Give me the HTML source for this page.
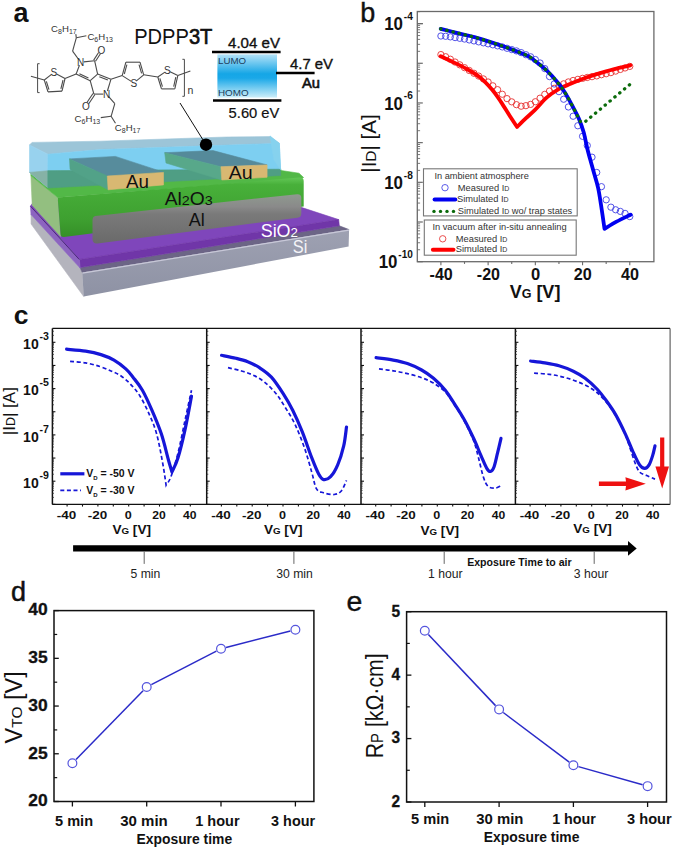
<!DOCTYPE html>
<html><head><meta charset="utf-8"><style>
html,body{margin:0;padding:0;background:#fff;}
svg{display:block;font-family:"Liberation Sans", sans-serif;}
</style></head><body>
<svg width="675" height="849" viewBox="0 0 675 849">
<rect width="675" height="849" fill="#fff"/>
<rect x="54" y="610.6" width="259.9" height="190.9" fill="none" stroke="#111" stroke-width="1.5"/>
<line x1="54" y1="801.5" x2="58.8" y2="801.5" stroke="#111" stroke-width="1.3" />
<line x1="54" y1="753.77" x2="58.8" y2="753.77" stroke="#111" stroke-width="1.3" />
<line x1="54" y1="706.05" x2="58.8" y2="706.05" stroke="#111" stroke-width="1.3" />
<line x1="54" y1="658.33" x2="58.8" y2="658.33" stroke="#111" stroke-width="1.3" />
<line x1="54" y1="610.6" x2="58.8" y2="610.6" stroke="#111" stroke-width="1.3" />
<line x1="54" y1="777.64" x2="57.2" y2="777.64" stroke="#111" stroke-width="1.2" />
<line x1="54" y1="729.91" x2="57.2" y2="729.91" stroke="#111" stroke-width="1.2" />
<line x1="54" y1="682.19" x2="57.2" y2="682.19" stroke="#111" stroke-width="1.2" />
<line x1="54" y1="634.46" x2="57.2" y2="634.46" stroke="#111" stroke-width="1.2" />
<text x="47.6" y="806.3" font-size="15.6" font-weight="bold" fill="#111" text-anchor="end" textLength="19.4" lengthAdjust="spacingAndGlyphs" stroke="#111" stroke-width="0.3">20</text>
<text x="47.6" y="758.57" font-size="15.6" font-weight="bold" fill="#111" text-anchor="end" textLength="19.4" lengthAdjust="spacingAndGlyphs" stroke="#111" stroke-width="0.3">25</text>
<text x="47.6" y="710.85" font-size="15.6" font-weight="bold" fill="#111" text-anchor="end" textLength="19.4" lengthAdjust="spacingAndGlyphs" stroke="#111" stroke-width="0.3">30</text>
<text x="47.6" y="663.12" font-size="15.6" font-weight="bold" fill="#111" text-anchor="end" textLength="19.4" lengthAdjust="spacingAndGlyphs" stroke="#111" stroke-width="0.3">35</text>
<text x="47.6" y="615.4" font-size="15.6" font-weight="bold" fill="#111" text-anchor="end" textLength="19.4" lengthAdjust="spacingAndGlyphs" stroke="#111" stroke-width="0.3">40</text>
<line x1="72.4" y1="801.5" x2="72.4" y2="806.5" stroke="#111" stroke-width="1.3" />
<text x="74.05" y="826.1" font-size="14.2" font-weight="bold" fill="#111" text-anchor="middle" textLength="38" lengthAdjust="spacingAndGlyphs" >5 min</text>
<line x1="146.7" y1="801.5" x2="146.7" y2="806.5" stroke="#111" stroke-width="1.3" />
<text x="144" y="826.1" font-size="14.2" font-weight="bold" fill="#111" text-anchor="middle" textLength="47.6" lengthAdjust="spacingAndGlyphs" >30 min</text>
<line x1="221" y1="801.5" x2="221" y2="806.5" stroke="#111" stroke-width="1.3" />
<text x="217.4" y="826.1" font-size="14.2" font-weight="bold" fill="#111" text-anchor="middle" textLength="44.3" lengthAdjust="spacingAndGlyphs" >1 hour</text>
<line x1="295.4" y1="801.5" x2="295.4" y2="806.5" stroke="#111" stroke-width="1.3" />
<text x="293.1" y="826.1" font-size="14.2" font-weight="bold" fill="#111" text-anchor="middle" textLength="44" lengthAdjust="spacingAndGlyphs" >3 hour</text>
<text x="184.3" y="844" font-size="14" font-weight="bold" fill="#111" text-anchor="middle" textLength="95.6" lengthAdjust="spacingAndGlyphs" >Exposure time</text>
<line x1="76.03" y1="759.59" x2="143.07" y2="690.69" stroke="#2b2bc8" stroke-width="1.5" />
<line x1="151.33" y1="684.58" x2="216.37" y2="651.16" stroke="#2b2bc8" stroke-width="1.5" />
<line x1="226.04" y1="647.49" x2="290.36" y2="630.98" stroke="#2b2bc8" stroke-width="1.5" />
<circle cx="72.4" cy="763.32" r="4.4" fill="#fff" stroke="#5555dd" stroke-width="1.2"/>
<circle cx="146.7" cy="686.96" r="4.4" fill="#fff" stroke="#5555dd" stroke-width="1.2"/>
<circle cx="221" cy="648.78" r="4.4" fill="#fff" stroke="#5555dd" stroke-width="1.2"/>
<circle cx="295.4" cy="629.69" r="4.4" fill="#fff" stroke="#5555dd" stroke-width="1.2"/>
<text transform="translate(22.4,707.3) rotate(-90)" text-anchor="middle" font-size="23.5" fill="#111">V<tspan font-size="15.5">TO</tspan> [V]</text>
<text x="11" y="600.7" font-size="27" font-weight="normal" fill="#111" text-anchor="start" stroke="#111" stroke-width="0.5">d</text>
<rect x="406.6" y="611.7" width="259.9" height="190.3" fill="none" stroke="#111" stroke-width="1.5"/>
<line x1="406.6" y1="802" x2="411.4" y2="802" stroke="#111" stroke-width="1.3" />
<line x1="406.6" y1="738.57" x2="411.4" y2="738.57" stroke="#111" stroke-width="1.3" />
<line x1="406.6" y1="675.13" x2="411.4" y2="675.13" stroke="#111" stroke-width="1.3" />
<line x1="406.6" y1="611.7" x2="411.4" y2="611.7" stroke="#111" stroke-width="1.3" />
<line x1="406.6" y1="770.28" x2="409.8" y2="770.28" stroke="#111" stroke-width="1.2" />
<line x1="406.6" y1="706.85" x2="409.8" y2="706.85" stroke="#111" stroke-width="1.2" />
<line x1="406.6" y1="643.42" x2="409.8" y2="643.42" stroke="#111" stroke-width="1.2" />
<text x="400.2" y="806.8" font-size="15.6" font-weight="bold" fill="#111" text-anchor="end" textLength="8.6" lengthAdjust="spacingAndGlyphs" stroke="#111" stroke-width="0.3">2</text>
<text x="400.2" y="743.37" font-size="15.6" font-weight="bold" fill="#111" text-anchor="end" textLength="8.6" lengthAdjust="spacingAndGlyphs" stroke="#111" stroke-width="0.3">3</text>
<text x="400.2" y="679.93" font-size="15.6" font-weight="bold" fill="#111" text-anchor="end" textLength="8.6" lengthAdjust="spacingAndGlyphs" stroke="#111" stroke-width="0.3">4</text>
<text x="400.2" y="616.5" font-size="15.6" font-weight="bold" fill="#111" text-anchor="end" textLength="8.6" lengthAdjust="spacingAndGlyphs" stroke="#111" stroke-width="0.3">5</text>
<line x1="424.8" y1="802" x2="424.8" y2="807" stroke="#111" stroke-width="1.3" />
<text x="430.1" y="824.3" font-size="14.2" font-weight="bold" fill="#111" text-anchor="middle" textLength="38.2" lengthAdjust="spacingAndGlyphs" >5 min</text>
<line x1="499.1" y1="802" x2="499.1" y2="807" stroke="#111" stroke-width="1.3" />
<text x="499.8" y="824.3" font-size="14.2" font-weight="bold" fill="#111" text-anchor="middle" textLength="47.2" lengthAdjust="spacingAndGlyphs" >30 min</text>
<line x1="573.4" y1="802" x2="573.4" y2="807" stroke="#111" stroke-width="1.3" />
<text x="574" y="824.3" font-size="14.2" font-weight="bold" fill="#111" text-anchor="middle" textLength="43.7" lengthAdjust="spacingAndGlyphs" >1 hour</text>
<line x1="647.6" y1="802" x2="647.6" y2="807" stroke="#111" stroke-width="1.3" />
<text x="649.4" y="824.3" font-size="14.2" font-weight="bold" fill="#111" text-anchor="middle" textLength="44.6" lengthAdjust="spacingAndGlyphs" >3 hour</text>
<text x="531.6" y="842.4" font-size="14" font-weight="bold" fill="#111" text-anchor="middle" textLength="95.6" lengthAdjust="spacingAndGlyphs" >Exposure time</text>
<line x1="428.37" y1="634.51" x2="495.53" y2="705.61" stroke="#2b2bc8" stroke-width="1.5" />
<line x1="503.26" y1="712.51" x2="569.24" y2="762.09" stroke="#2b2bc8" stroke-width="1.5" />
<line x1="578.4" y1="766.62" x2="642.6" y2="784.73" stroke="#2b2bc8" stroke-width="1.5" />
<circle cx="424.8" cy="630.73" r="4.4" fill="#fff" stroke="#5555dd" stroke-width="1.2"/>
<circle cx="499.1" cy="709.39" r="4.4" fill="#fff" stroke="#5555dd" stroke-width="1.2"/>
<circle cx="573.4" cy="765.21" r="4.4" fill="#fff" stroke="#5555dd" stroke-width="1.2"/>
<circle cx="647.6" cy="786.14" r="4.4" fill="#fff" stroke="#5555dd" stroke-width="1.2"/>
<text transform="translate(382.7,705.8) rotate(-90)" text-anchor="middle" font-size="23" fill="#111" textLength="105" lengthAdjust="spacingAndGlyphs">R<tspan font-size="16">P</tspan> [kΩ·cm]</text>
<text x="346.6" y="610.6" font-size="28.5" font-weight="normal" fill="#111" text-anchor="start" stroke="#111" stroke-width="0.4">e</text>
<line x1="52.4" y1="328.4" x2="670.1" y2="328.4" stroke="#111" stroke-width="1.4"/>
<line x1="52.4" y1="504.4" x2="670.1" y2="504.4" stroke="#111" stroke-width="1.4"/>
<line x1="52.4" y1="328.4" x2="52.4" y2="504.4" stroke="#111" stroke-width="1.5"/>
<line x1="52.4" y1="504.35" x2="55.4" y2="504.35" stroke="#111" stroke-width="1.1" />
<line x1="52.4" y1="497.38" x2="54" y2="497.38" stroke="#333" stroke-width="0.8" />
<line x1="52.4" y1="493.3" x2="54" y2="493.3" stroke="#333" stroke-width="0.8" />
<line x1="52.4" y1="490.41" x2="54" y2="490.41" stroke="#333" stroke-width="0.8" />
<line x1="52.4" y1="488.17" x2="54" y2="488.17" stroke="#333" stroke-width="0.8" />
<line x1="52.4" y1="486.34" x2="54" y2="486.34" stroke="#333" stroke-width="0.8" />
<line x1="52.4" y1="484.79" x2="54" y2="484.79" stroke="#333" stroke-width="0.8" />
<line x1="52.4" y1="483.44" x2="54" y2="483.44" stroke="#333" stroke-width="0.8" />
<line x1="52.4" y1="482.26" x2="54" y2="482.26" stroke="#333" stroke-width="0.8" />
<line x1="52.4" y1="481.2" x2="55.4" y2="481.2" stroke="#111" stroke-width="1.1" />
<line x1="52.4" y1="474.23" x2="54" y2="474.23" stroke="#333" stroke-width="0.8" />
<line x1="52.4" y1="470.15" x2="54" y2="470.15" stroke="#333" stroke-width="0.8" />
<line x1="52.4" y1="467.26" x2="54" y2="467.26" stroke="#333" stroke-width="0.8" />
<line x1="52.4" y1="465.02" x2="54" y2="465.02" stroke="#333" stroke-width="0.8" />
<line x1="52.4" y1="463.19" x2="54" y2="463.19" stroke="#333" stroke-width="0.8" />
<line x1="52.4" y1="461.64" x2="54" y2="461.64" stroke="#333" stroke-width="0.8" />
<line x1="52.4" y1="460.29" x2="54" y2="460.29" stroke="#333" stroke-width="0.8" />
<line x1="52.4" y1="459.11" x2="54" y2="459.11" stroke="#333" stroke-width="0.8" />
<line x1="52.4" y1="458.05" x2="55.4" y2="458.05" stroke="#111" stroke-width="1.1" />
<line x1="52.4" y1="451.08" x2="54" y2="451.08" stroke="#333" stroke-width="0.8" />
<line x1="52.4" y1="447" x2="54" y2="447" stroke="#333" stroke-width="0.8" />
<line x1="52.4" y1="444.11" x2="54" y2="444.11" stroke="#333" stroke-width="0.8" />
<line x1="52.4" y1="441.87" x2="54" y2="441.87" stroke="#333" stroke-width="0.8" />
<line x1="52.4" y1="440.04" x2="54" y2="440.04" stroke="#333" stroke-width="0.8" />
<line x1="52.4" y1="438.49" x2="54" y2="438.49" stroke="#333" stroke-width="0.8" />
<line x1="52.4" y1="437.14" x2="54" y2="437.14" stroke="#333" stroke-width="0.8" />
<line x1="52.4" y1="435.96" x2="54" y2="435.96" stroke="#333" stroke-width="0.8" />
<line x1="52.4" y1="434.9" x2="55.4" y2="434.9" stroke="#111" stroke-width="1.1" />
<line x1="52.4" y1="427.93" x2="54" y2="427.93" stroke="#333" stroke-width="0.8" />
<line x1="52.4" y1="423.85" x2="54" y2="423.85" stroke="#333" stroke-width="0.8" />
<line x1="52.4" y1="420.96" x2="54" y2="420.96" stroke="#333" stroke-width="0.8" />
<line x1="52.4" y1="418.72" x2="54" y2="418.72" stroke="#333" stroke-width="0.8" />
<line x1="52.4" y1="416.89" x2="54" y2="416.89" stroke="#333" stroke-width="0.8" />
<line x1="52.4" y1="415.34" x2="54" y2="415.34" stroke="#333" stroke-width="0.8" />
<line x1="52.4" y1="413.99" x2="54" y2="413.99" stroke="#333" stroke-width="0.8" />
<line x1="52.4" y1="412.81" x2="54" y2="412.81" stroke="#333" stroke-width="0.8" />
<line x1="52.4" y1="411.75" x2="55.4" y2="411.75" stroke="#111" stroke-width="1.1" />
<line x1="52.4" y1="404.78" x2="54" y2="404.78" stroke="#333" stroke-width="0.8" />
<line x1="52.4" y1="400.7" x2="54" y2="400.7" stroke="#333" stroke-width="0.8" />
<line x1="52.4" y1="397.81" x2="54" y2="397.81" stroke="#333" stroke-width="0.8" />
<line x1="52.4" y1="395.57" x2="54" y2="395.57" stroke="#333" stroke-width="0.8" />
<line x1="52.4" y1="393.74" x2="54" y2="393.74" stroke="#333" stroke-width="0.8" />
<line x1="52.4" y1="392.19" x2="54" y2="392.19" stroke="#333" stroke-width="0.8" />
<line x1="52.4" y1="390.84" x2="54" y2="390.84" stroke="#333" stroke-width="0.8" />
<line x1="52.4" y1="389.66" x2="54" y2="389.66" stroke="#333" stroke-width="0.8" />
<line x1="52.4" y1="388.6" x2="55.4" y2="388.6" stroke="#111" stroke-width="1.1" />
<line x1="52.4" y1="381.63" x2="54" y2="381.63" stroke="#333" stroke-width="0.8" />
<line x1="52.4" y1="377.55" x2="54" y2="377.55" stroke="#333" stroke-width="0.8" />
<line x1="52.4" y1="374.66" x2="54" y2="374.66" stroke="#333" stroke-width="0.8" />
<line x1="52.4" y1="372.42" x2="54" y2="372.42" stroke="#333" stroke-width="0.8" />
<line x1="52.4" y1="370.59" x2="54" y2="370.59" stroke="#333" stroke-width="0.8" />
<line x1="52.4" y1="369.04" x2="54" y2="369.04" stroke="#333" stroke-width="0.8" />
<line x1="52.4" y1="367.69" x2="54" y2="367.69" stroke="#333" stroke-width="0.8" />
<line x1="52.4" y1="366.51" x2="54" y2="366.51" stroke="#333" stroke-width="0.8" />
<line x1="52.4" y1="365.45" x2="55.4" y2="365.45" stroke="#111" stroke-width="1.1" />
<line x1="52.4" y1="358.48" x2="54" y2="358.48" stroke="#333" stroke-width="0.8" />
<line x1="52.4" y1="354.4" x2="54" y2="354.4" stroke="#333" stroke-width="0.8" />
<line x1="52.4" y1="351.51" x2="54" y2="351.51" stroke="#333" stroke-width="0.8" />
<line x1="52.4" y1="349.27" x2="54" y2="349.27" stroke="#333" stroke-width="0.8" />
<line x1="52.4" y1="347.44" x2="54" y2="347.44" stroke="#333" stroke-width="0.8" />
<line x1="52.4" y1="345.89" x2="54" y2="345.89" stroke="#333" stroke-width="0.8" />
<line x1="52.4" y1="344.54" x2="54" y2="344.54" stroke="#333" stroke-width="0.8" />
<line x1="52.4" y1="343.36" x2="54" y2="343.36" stroke="#333" stroke-width="0.8" />
<line x1="52.4" y1="342.3" x2="55.4" y2="342.3" stroke="#111" stroke-width="1.1" />
<line x1="52.4" y1="335.33" x2="54" y2="335.33" stroke="#333" stroke-width="0.8" />
<line x1="52.4" y1="331.25" x2="54" y2="331.25" stroke="#333" stroke-width="0.8" />
<line x1="67.1" y1="504.4" x2="67.1" y2="506.6" stroke="#111" stroke-width="1.1" />
<line x1="82.5" y1="504.4" x2="82.5" y2="506.6" stroke="#111" stroke-width="1.1" />
<line x1="97.9" y1="504.4" x2="97.9" y2="506.6" stroke="#111" stroke-width="1.1" />
<line x1="113.3" y1="504.4" x2="113.3" y2="506.6" stroke="#111" stroke-width="1.1" />
<line x1="128.7" y1="504.4" x2="128.7" y2="506.6" stroke="#111" stroke-width="1.1" />
<line x1="144.1" y1="504.4" x2="144.1" y2="506.6" stroke="#111" stroke-width="1.1" />
<line x1="159.5" y1="504.4" x2="159.5" y2="506.6" stroke="#111" stroke-width="1.1" />
<line x1="174.9" y1="504.4" x2="174.9" y2="506.6" stroke="#111" stroke-width="1.1" />
<line x1="190.3" y1="504.4" x2="190.3" y2="506.6" stroke="#111" stroke-width="1.1" />
<text x="66.6" y="519.2" font-size="11.8" font-weight="bold" fill="#111" text-anchor="middle" textLength="19.5" lengthAdjust="spacingAndGlyphs" >-40</text>
<text x="97.4" y="519.2" font-size="11.8" font-weight="bold" fill="#111" text-anchor="middle" textLength="19.5" lengthAdjust="spacingAndGlyphs" >-20</text>
<text x="128.2" y="519.2" font-size="11.8" font-weight="bold" fill="#111" text-anchor="middle" textLength="7" lengthAdjust="spacingAndGlyphs" >0</text>
<text x="159" y="519.2" font-size="11.8" font-weight="bold" fill="#111" text-anchor="middle" textLength="13.5" lengthAdjust="spacingAndGlyphs" >20</text>
<text x="189.8" y="519.2" font-size="11.8" font-weight="bold" fill="#111" text-anchor="middle" textLength="13.5" lengthAdjust="spacingAndGlyphs" >40</text>
<text x="131.7" y="534.3" text-anchor="middle" font-size="12.8" font-weight="bold" fill="#111" textLength="38.6" lengthAdjust="spacingAndGlyphs">V<tspan font-size="9.2">G</tspan> [V]</text>
<line x1="206.7" y1="328.4" x2="206.7" y2="504.4" stroke="#111" stroke-width="1.5"/>
<line x1="206.7" y1="504.35" x2="209.7" y2="504.35" stroke="#111" stroke-width="1.1" />
<line x1="206.7" y1="497.38" x2="208.3" y2="497.38" stroke="#333" stroke-width="0.8" />
<line x1="206.7" y1="493.3" x2="208.3" y2="493.3" stroke="#333" stroke-width="0.8" />
<line x1="206.7" y1="490.41" x2="208.3" y2="490.41" stroke="#333" stroke-width="0.8" />
<line x1="206.7" y1="488.17" x2="208.3" y2="488.17" stroke="#333" stroke-width="0.8" />
<line x1="206.7" y1="486.34" x2="208.3" y2="486.34" stroke="#333" stroke-width="0.8" />
<line x1="206.7" y1="484.79" x2="208.3" y2="484.79" stroke="#333" stroke-width="0.8" />
<line x1="206.7" y1="483.44" x2="208.3" y2="483.44" stroke="#333" stroke-width="0.8" />
<line x1="206.7" y1="482.26" x2="208.3" y2="482.26" stroke="#333" stroke-width="0.8" />
<line x1="206.7" y1="481.2" x2="209.7" y2="481.2" stroke="#111" stroke-width="1.1" />
<line x1="206.7" y1="474.23" x2="208.3" y2="474.23" stroke="#333" stroke-width="0.8" />
<line x1="206.7" y1="470.15" x2="208.3" y2="470.15" stroke="#333" stroke-width="0.8" />
<line x1="206.7" y1="467.26" x2="208.3" y2="467.26" stroke="#333" stroke-width="0.8" />
<line x1="206.7" y1="465.02" x2="208.3" y2="465.02" stroke="#333" stroke-width="0.8" />
<line x1="206.7" y1="463.19" x2="208.3" y2="463.19" stroke="#333" stroke-width="0.8" />
<line x1="206.7" y1="461.64" x2="208.3" y2="461.64" stroke="#333" stroke-width="0.8" />
<line x1="206.7" y1="460.29" x2="208.3" y2="460.29" stroke="#333" stroke-width="0.8" />
<line x1="206.7" y1="459.11" x2="208.3" y2="459.11" stroke="#333" stroke-width="0.8" />
<line x1="206.7" y1="458.05" x2="209.7" y2="458.05" stroke="#111" stroke-width="1.1" />
<line x1="206.7" y1="451.08" x2="208.3" y2="451.08" stroke="#333" stroke-width="0.8" />
<line x1="206.7" y1="447" x2="208.3" y2="447" stroke="#333" stroke-width="0.8" />
<line x1="206.7" y1="444.11" x2="208.3" y2="444.11" stroke="#333" stroke-width="0.8" />
<line x1="206.7" y1="441.87" x2="208.3" y2="441.87" stroke="#333" stroke-width="0.8" />
<line x1="206.7" y1="440.04" x2="208.3" y2="440.04" stroke="#333" stroke-width="0.8" />
<line x1="206.7" y1="438.49" x2="208.3" y2="438.49" stroke="#333" stroke-width="0.8" />
<line x1="206.7" y1="437.14" x2="208.3" y2="437.14" stroke="#333" stroke-width="0.8" />
<line x1="206.7" y1="435.96" x2="208.3" y2="435.96" stroke="#333" stroke-width="0.8" />
<line x1="206.7" y1="434.9" x2="209.7" y2="434.9" stroke="#111" stroke-width="1.1" />
<line x1="206.7" y1="427.93" x2="208.3" y2="427.93" stroke="#333" stroke-width="0.8" />
<line x1="206.7" y1="423.85" x2="208.3" y2="423.85" stroke="#333" stroke-width="0.8" />
<line x1="206.7" y1="420.96" x2="208.3" y2="420.96" stroke="#333" stroke-width="0.8" />
<line x1="206.7" y1="418.72" x2="208.3" y2="418.72" stroke="#333" stroke-width="0.8" />
<line x1="206.7" y1="416.89" x2="208.3" y2="416.89" stroke="#333" stroke-width="0.8" />
<line x1="206.7" y1="415.34" x2="208.3" y2="415.34" stroke="#333" stroke-width="0.8" />
<line x1="206.7" y1="413.99" x2="208.3" y2="413.99" stroke="#333" stroke-width="0.8" />
<line x1="206.7" y1="412.81" x2="208.3" y2="412.81" stroke="#333" stroke-width="0.8" />
<line x1="206.7" y1="411.75" x2="209.7" y2="411.75" stroke="#111" stroke-width="1.1" />
<line x1="206.7" y1="404.78" x2="208.3" y2="404.78" stroke="#333" stroke-width="0.8" />
<line x1="206.7" y1="400.7" x2="208.3" y2="400.7" stroke="#333" stroke-width="0.8" />
<line x1="206.7" y1="397.81" x2="208.3" y2="397.81" stroke="#333" stroke-width="0.8" />
<line x1="206.7" y1="395.57" x2="208.3" y2="395.57" stroke="#333" stroke-width="0.8" />
<line x1="206.7" y1="393.74" x2="208.3" y2="393.74" stroke="#333" stroke-width="0.8" />
<line x1="206.7" y1="392.19" x2="208.3" y2="392.19" stroke="#333" stroke-width="0.8" />
<line x1="206.7" y1="390.84" x2="208.3" y2="390.84" stroke="#333" stroke-width="0.8" />
<line x1="206.7" y1="389.66" x2="208.3" y2="389.66" stroke="#333" stroke-width="0.8" />
<line x1="206.7" y1="388.6" x2="209.7" y2="388.6" stroke="#111" stroke-width="1.1" />
<line x1="206.7" y1="381.63" x2="208.3" y2="381.63" stroke="#333" stroke-width="0.8" />
<line x1="206.7" y1="377.55" x2="208.3" y2="377.55" stroke="#333" stroke-width="0.8" />
<line x1="206.7" y1="374.66" x2="208.3" y2="374.66" stroke="#333" stroke-width="0.8" />
<line x1="206.7" y1="372.42" x2="208.3" y2="372.42" stroke="#333" stroke-width="0.8" />
<line x1="206.7" y1="370.59" x2="208.3" y2="370.59" stroke="#333" stroke-width="0.8" />
<line x1="206.7" y1="369.04" x2="208.3" y2="369.04" stroke="#333" stroke-width="0.8" />
<line x1="206.7" y1="367.69" x2="208.3" y2="367.69" stroke="#333" stroke-width="0.8" />
<line x1="206.7" y1="366.51" x2="208.3" y2="366.51" stroke="#333" stroke-width="0.8" />
<line x1="206.7" y1="365.45" x2="209.7" y2="365.45" stroke="#111" stroke-width="1.1" />
<line x1="206.7" y1="358.48" x2="208.3" y2="358.48" stroke="#333" stroke-width="0.8" />
<line x1="206.7" y1="354.4" x2="208.3" y2="354.4" stroke="#333" stroke-width="0.8" />
<line x1="206.7" y1="351.51" x2="208.3" y2="351.51" stroke="#333" stroke-width="0.8" />
<line x1="206.7" y1="349.27" x2="208.3" y2="349.27" stroke="#333" stroke-width="0.8" />
<line x1="206.7" y1="347.44" x2="208.3" y2="347.44" stroke="#333" stroke-width="0.8" />
<line x1="206.7" y1="345.89" x2="208.3" y2="345.89" stroke="#333" stroke-width="0.8" />
<line x1="206.7" y1="344.54" x2="208.3" y2="344.54" stroke="#333" stroke-width="0.8" />
<line x1="206.7" y1="343.36" x2="208.3" y2="343.36" stroke="#333" stroke-width="0.8" />
<line x1="206.7" y1="342.3" x2="209.7" y2="342.3" stroke="#111" stroke-width="1.1" />
<line x1="206.7" y1="335.33" x2="208.3" y2="335.33" stroke="#333" stroke-width="0.8" />
<line x1="206.7" y1="331.25" x2="208.3" y2="331.25" stroke="#333" stroke-width="0.8" />
<line x1="221.4" y1="504.4" x2="221.4" y2="506.6" stroke="#111" stroke-width="1.1" />
<line x1="236.8" y1="504.4" x2="236.8" y2="506.6" stroke="#111" stroke-width="1.1" />
<line x1="252.2" y1="504.4" x2="252.2" y2="506.6" stroke="#111" stroke-width="1.1" />
<line x1="267.6" y1="504.4" x2="267.6" y2="506.6" stroke="#111" stroke-width="1.1" />
<line x1="283" y1="504.4" x2="283" y2="506.6" stroke="#111" stroke-width="1.1" />
<line x1="298.4" y1="504.4" x2="298.4" y2="506.6" stroke="#111" stroke-width="1.1" />
<line x1="313.8" y1="504.4" x2="313.8" y2="506.6" stroke="#111" stroke-width="1.1" />
<line x1="329.2" y1="504.4" x2="329.2" y2="506.6" stroke="#111" stroke-width="1.1" />
<line x1="344.6" y1="504.4" x2="344.6" y2="506.6" stroke="#111" stroke-width="1.1" />
<text x="220.9" y="519.2" font-size="11.8" font-weight="bold" fill="#111" text-anchor="middle" textLength="19.5" lengthAdjust="spacingAndGlyphs" >-40</text>
<text x="251.7" y="519.2" font-size="11.8" font-weight="bold" fill="#111" text-anchor="middle" textLength="19.5" lengthAdjust="spacingAndGlyphs" >-20</text>
<text x="282.5" y="519.2" font-size="11.8" font-weight="bold" fill="#111" text-anchor="middle" textLength="7" lengthAdjust="spacingAndGlyphs" >0</text>
<text x="313.3" y="519.2" font-size="11.8" font-weight="bold" fill="#111" text-anchor="middle" textLength="13.5" lengthAdjust="spacingAndGlyphs" >20</text>
<text x="344.1" y="519.2" font-size="11.8" font-weight="bold" fill="#111" text-anchor="middle" textLength="13.5" lengthAdjust="spacingAndGlyphs" >40</text>
<text x="283.2" y="533.9" text-anchor="middle" font-size="12.8" font-weight="bold" fill="#111" textLength="38.6" lengthAdjust="spacingAndGlyphs">V<tspan font-size="9.2">G</tspan> [V]</text>
<line x1="361.0" y1="328.4" x2="361.0" y2="504.4" stroke="#111" stroke-width="1.5"/>
<line x1="361" y1="504.35" x2="364" y2="504.35" stroke="#111" stroke-width="1.1" />
<line x1="361" y1="497.38" x2="362.6" y2="497.38" stroke="#333" stroke-width="0.8" />
<line x1="361" y1="493.3" x2="362.6" y2="493.3" stroke="#333" stroke-width="0.8" />
<line x1="361" y1="490.41" x2="362.6" y2="490.41" stroke="#333" stroke-width="0.8" />
<line x1="361" y1="488.17" x2="362.6" y2="488.17" stroke="#333" stroke-width="0.8" />
<line x1="361" y1="486.34" x2="362.6" y2="486.34" stroke="#333" stroke-width="0.8" />
<line x1="361" y1="484.79" x2="362.6" y2="484.79" stroke="#333" stroke-width="0.8" />
<line x1="361" y1="483.44" x2="362.6" y2="483.44" stroke="#333" stroke-width="0.8" />
<line x1="361" y1="482.26" x2="362.6" y2="482.26" stroke="#333" stroke-width="0.8" />
<line x1="361" y1="481.2" x2="364" y2="481.2" stroke="#111" stroke-width="1.1" />
<line x1="361" y1="474.23" x2="362.6" y2="474.23" stroke="#333" stroke-width="0.8" />
<line x1="361" y1="470.15" x2="362.6" y2="470.15" stroke="#333" stroke-width="0.8" />
<line x1="361" y1="467.26" x2="362.6" y2="467.26" stroke="#333" stroke-width="0.8" />
<line x1="361" y1="465.02" x2="362.6" y2="465.02" stroke="#333" stroke-width="0.8" />
<line x1="361" y1="463.19" x2="362.6" y2="463.19" stroke="#333" stroke-width="0.8" />
<line x1="361" y1="461.64" x2="362.6" y2="461.64" stroke="#333" stroke-width="0.8" />
<line x1="361" y1="460.29" x2="362.6" y2="460.29" stroke="#333" stroke-width="0.8" />
<line x1="361" y1="459.11" x2="362.6" y2="459.11" stroke="#333" stroke-width="0.8" />
<line x1="361" y1="458.05" x2="364" y2="458.05" stroke="#111" stroke-width="1.1" />
<line x1="361" y1="451.08" x2="362.6" y2="451.08" stroke="#333" stroke-width="0.8" />
<line x1="361" y1="447" x2="362.6" y2="447" stroke="#333" stroke-width="0.8" />
<line x1="361" y1="444.11" x2="362.6" y2="444.11" stroke="#333" stroke-width="0.8" />
<line x1="361" y1="441.87" x2="362.6" y2="441.87" stroke="#333" stroke-width="0.8" />
<line x1="361" y1="440.04" x2="362.6" y2="440.04" stroke="#333" stroke-width="0.8" />
<line x1="361" y1="438.49" x2="362.6" y2="438.49" stroke="#333" stroke-width="0.8" />
<line x1="361" y1="437.14" x2="362.6" y2="437.14" stroke="#333" stroke-width="0.8" />
<line x1="361" y1="435.96" x2="362.6" y2="435.96" stroke="#333" stroke-width="0.8" />
<line x1="361" y1="434.9" x2="364" y2="434.9" stroke="#111" stroke-width="1.1" />
<line x1="361" y1="427.93" x2="362.6" y2="427.93" stroke="#333" stroke-width="0.8" />
<line x1="361" y1="423.85" x2="362.6" y2="423.85" stroke="#333" stroke-width="0.8" />
<line x1="361" y1="420.96" x2="362.6" y2="420.96" stroke="#333" stroke-width="0.8" />
<line x1="361" y1="418.72" x2="362.6" y2="418.72" stroke="#333" stroke-width="0.8" />
<line x1="361" y1="416.89" x2="362.6" y2="416.89" stroke="#333" stroke-width="0.8" />
<line x1="361" y1="415.34" x2="362.6" y2="415.34" stroke="#333" stroke-width="0.8" />
<line x1="361" y1="413.99" x2="362.6" y2="413.99" stroke="#333" stroke-width="0.8" />
<line x1="361" y1="412.81" x2="362.6" y2="412.81" stroke="#333" stroke-width="0.8" />
<line x1="361" y1="411.75" x2="364" y2="411.75" stroke="#111" stroke-width="1.1" />
<line x1="361" y1="404.78" x2="362.6" y2="404.78" stroke="#333" stroke-width="0.8" />
<line x1="361" y1="400.7" x2="362.6" y2="400.7" stroke="#333" stroke-width="0.8" />
<line x1="361" y1="397.81" x2="362.6" y2="397.81" stroke="#333" stroke-width="0.8" />
<line x1="361" y1="395.57" x2="362.6" y2="395.57" stroke="#333" stroke-width="0.8" />
<line x1="361" y1="393.74" x2="362.6" y2="393.74" stroke="#333" stroke-width="0.8" />
<line x1="361" y1="392.19" x2="362.6" y2="392.19" stroke="#333" stroke-width="0.8" />
<line x1="361" y1="390.84" x2="362.6" y2="390.84" stroke="#333" stroke-width="0.8" />
<line x1="361" y1="389.66" x2="362.6" y2="389.66" stroke="#333" stroke-width="0.8" />
<line x1="361" y1="388.6" x2="364" y2="388.6" stroke="#111" stroke-width="1.1" />
<line x1="361" y1="381.63" x2="362.6" y2="381.63" stroke="#333" stroke-width="0.8" />
<line x1="361" y1="377.55" x2="362.6" y2="377.55" stroke="#333" stroke-width="0.8" />
<line x1="361" y1="374.66" x2="362.6" y2="374.66" stroke="#333" stroke-width="0.8" />
<line x1="361" y1="372.42" x2="362.6" y2="372.42" stroke="#333" stroke-width="0.8" />
<line x1="361" y1="370.59" x2="362.6" y2="370.59" stroke="#333" stroke-width="0.8" />
<line x1="361" y1="369.04" x2="362.6" y2="369.04" stroke="#333" stroke-width="0.8" />
<line x1="361" y1="367.69" x2="362.6" y2="367.69" stroke="#333" stroke-width="0.8" />
<line x1="361" y1="366.51" x2="362.6" y2="366.51" stroke="#333" stroke-width="0.8" />
<line x1="361" y1="365.45" x2="364" y2="365.45" stroke="#111" stroke-width="1.1" />
<line x1="361" y1="358.48" x2="362.6" y2="358.48" stroke="#333" stroke-width="0.8" />
<line x1="361" y1="354.4" x2="362.6" y2="354.4" stroke="#333" stroke-width="0.8" />
<line x1="361" y1="351.51" x2="362.6" y2="351.51" stroke="#333" stroke-width="0.8" />
<line x1="361" y1="349.27" x2="362.6" y2="349.27" stroke="#333" stroke-width="0.8" />
<line x1="361" y1="347.44" x2="362.6" y2="347.44" stroke="#333" stroke-width="0.8" />
<line x1="361" y1="345.89" x2="362.6" y2="345.89" stroke="#333" stroke-width="0.8" />
<line x1="361" y1="344.54" x2="362.6" y2="344.54" stroke="#333" stroke-width="0.8" />
<line x1="361" y1="343.36" x2="362.6" y2="343.36" stroke="#333" stroke-width="0.8" />
<line x1="361" y1="342.3" x2="364" y2="342.3" stroke="#111" stroke-width="1.1" />
<line x1="361" y1="335.33" x2="362.6" y2="335.33" stroke="#333" stroke-width="0.8" />
<line x1="361" y1="331.25" x2="362.6" y2="331.25" stroke="#333" stroke-width="0.8" />
<line x1="375.7" y1="504.4" x2="375.7" y2="506.6" stroke="#111" stroke-width="1.1" />
<line x1="391.1" y1="504.4" x2="391.1" y2="506.6" stroke="#111" stroke-width="1.1" />
<line x1="406.5" y1="504.4" x2="406.5" y2="506.6" stroke="#111" stroke-width="1.1" />
<line x1="421.9" y1="504.4" x2="421.9" y2="506.6" stroke="#111" stroke-width="1.1" />
<line x1="437.3" y1="504.4" x2="437.3" y2="506.6" stroke="#111" stroke-width="1.1" />
<line x1="452.7" y1="504.4" x2="452.7" y2="506.6" stroke="#111" stroke-width="1.1" />
<line x1="468.1" y1="504.4" x2="468.1" y2="506.6" stroke="#111" stroke-width="1.1" />
<line x1="483.5" y1="504.4" x2="483.5" y2="506.6" stroke="#111" stroke-width="1.1" />
<line x1="498.9" y1="504.4" x2="498.9" y2="506.6" stroke="#111" stroke-width="1.1" />
<text x="375.2" y="519.2" font-size="11.8" font-weight="bold" fill="#111" text-anchor="middle" textLength="19.5" lengthAdjust="spacingAndGlyphs" >-40</text>
<text x="406" y="519.2" font-size="11.8" font-weight="bold" fill="#111" text-anchor="middle" textLength="19.5" lengthAdjust="spacingAndGlyphs" >-20</text>
<text x="436.8" y="519.2" font-size="11.8" font-weight="bold" fill="#111" text-anchor="middle" textLength="7" lengthAdjust="spacingAndGlyphs" >0</text>
<text x="467.6" y="519.2" font-size="11.8" font-weight="bold" fill="#111" text-anchor="middle" textLength="13.5" lengthAdjust="spacingAndGlyphs" >20</text>
<text x="498.4" y="519.2" font-size="11.8" font-weight="bold" fill="#111" text-anchor="middle" textLength="13.5" lengthAdjust="spacingAndGlyphs" >40</text>
<text x="439.7" y="535.1" text-anchor="middle" font-size="12.8" font-weight="bold" fill="#111" textLength="38.6" lengthAdjust="spacingAndGlyphs">V<tspan font-size="9.2">G</tspan> [V]</text>
<line x1="515.4" y1="328.4" x2="515.4" y2="504.4" stroke="#111" stroke-width="1.5"/>
<line x1="515.4" y1="504.35" x2="518.4" y2="504.35" stroke="#111" stroke-width="1.1" />
<line x1="515.4" y1="497.38" x2="517" y2="497.38" stroke="#333" stroke-width="0.8" />
<line x1="515.4" y1="493.3" x2="517" y2="493.3" stroke="#333" stroke-width="0.8" />
<line x1="515.4" y1="490.41" x2="517" y2="490.41" stroke="#333" stroke-width="0.8" />
<line x1="515.4" y1="488.17" x2="517" y2="488.17" stroke="#333" stroke-width="0.8" />
<line x1="515.4" y1="486.34" x2="517" y2="486.34" stroke="#333" stroke-width="0.8" />
<line x1="515.4" y1="484.79" x2="517" y2="484.79" stroke="#333" stroke-width="0.8" />
<line x1="515.4" y1="483.44" x2="517" y2="483.44" stroke="#333" stroke-width="0.8" />
<line x1="515.4" y1="482.26" x2="517" y2="482.26" stroke="#333" stroke-width="0.8" />
<line x1="515.4" y1="481.2" x2="518.4" y2="481.2" stroke="#111" stroke-width="1.1" />
<line x1="515.4" y1="474.23" x2="517" y2="474.23" stroke="#333" stroke-width="0.8" />
<line x1="515.4" y1="470.15" x2="517" y2="470.15" stroke="#333" stroke-width="0.8" />
<line x1="515.4" y1="467.26" x2="517" y2="467.26" stroke="#333" stroke-width="0.8" />
<line x1="515.4" y1="465.02" x2="517" y2="465.02" stroke="#333" stroke-width="0.8" />
<line x1="515.4" y1="463.19" x2="517" y2="463.19" stroke="#333" stroke-width="0.8" />
<line x1="515.4" y1="461.64" x2="517" y2="461.64" stroke="#333" stroke-width="0.8" />
<line x1="515.4" y1="460.29" x2="517" y2="460.29" stroke="#333" stroke-width="0.8" />
<line x1="515.4" y1="459.11" x2="517" y2="459.11" stroke="#333" stroke-width="0.8" />
<line x1="515.4" y1="458.05" x2="518.4" y2="458.05" stroke="#111" stroke-width="1.1" />
<line x1="515.4" y1="451.08" x2="517" y2="451.08" stroke="#333" stroke-width="0.8" />
<line x1="515.4" y1="447" x2="517" y2="447" stroke="#333" stroke-width="0.8" />
<line x1="515.4" y1="444.11" x2="517" y2="444.11" stroke="#333" stroke-width="0.8" />
<line x1="515.4" y1="441.87" x2="517" y2="441.87" stroke="#333" stroke-width="0.8" />
<line x1="515.4" y1="440.04" x2="517" y2="440.04" stroke="#333" stroke-width="0.8" />
<line x1="515.4" y1="438.49" x2="517" y2="438.49" stroke="#333" stroke-width="0.8" />
<line x1="515.4" y1="437.14" x2="517" y2="437.14" stroke="#333" stroke-width="0.8" />
<line x1="515.4" y1="435.96" x2="517" y2="435.96" stroke="#333" stroke-width="0.8" />
<line x1="515.4" y1="434.9" x2="518.4" y2="434.9" stroke="#111" stroke-width="1.1" />
<line x1="515.4" y1="427.93" x2="517" y2="427.93" stroke="#333" stroke-width="0.8" />
<line x1="515.4" y1="423.85" x2="517" y2="423.85" stroke="#333" stroke-width="0.8" />
<line x1="515.4" y1="420.96" x2="517" y2="420.96" stroke="#333" stroke-width="0.8" />
<line x1="515.4" y1="418.72" x2="517" y2="418.72" stroke="#333" stroke-width="0.8" />
<line x1="515.4" y1="416.89" x2="517" y2="416.89" stroke="#333" stroke-width="0.8" />
<line x1="515.4" y1="415.34" x2="517" y2="415.34" stroke="#333" stroke-width="0.8" />
<line x1="515.4" y1="413.99" x2="517" y2="413.99" stroke="#333" stroke-width="0.8" />
<line x1="515.4" y1="412.81" x2="517" y2="412.81" stroke="#333" stroke-width="0.8" />
<line x1="515.4" y1="411.75" x2="518.4" y2="411.75" stroke="#111" stroke-width="1.1" />
<line x1="515.4" y1="404.78" x2="517" y2="404.78" stroke="#333" stroke-width="0.8" />
<line x1="515.4" y1="400.7" x2="517" y2="400.7" stroke="#333" stroke-width="0.8" />
<line x1="515.4" y1="397.81" x2="517" y2="397.81" stroke="#333" stroke-width="0.8" />
<line x1="515.4" y1="395.57" x2="517" y2="395.57" stroke="#333" stroke-width="0.8" />
<line x1="515.4" y1="393.74" x2="517" y2="393.74" stroke="#333" stroke-width="0.8" />
<line x1="515.4" y1="392.19" x2="517" y2="392.19" stroke="#333" stroke-width="0.8" />
<line x1="515.4" y1="390.84" x2="517" y2="390.84" stroke="#333" stroke-width="0.8" />
<line x1="515.4" y1="389.66" x2="517" y2="389.66" stroke="#333" stroke-width="0.8" />
<line x1="515.4" y1="388.6" x2="518.4" y2="388.6" stroke="#111" stroke-width="1.1" />
<line x1="515.4" y1="381.63" x2="517" y2="381.63" stroke="#333" stroke-width="0.8" />
<line x1="515.4" y1="377.55" x2="517" y2="377.55" stroke="#333" stroke-width="0.8" />
<line x1="515.4" y1="374.66" x2="517" y2="374.66" stroke="#333" stroke-width="0.8" />
<line x1="515.4" y1="372.42" x2="517" y2="372.42" stroke="#333" stroke-width="0.8" />
<line x1="515.4" y1="370.59" x2="517" y2="370.59" stroke="#333" stroke-width="0.8" />
<line x1="515.4" y1="369.04" x2="517" y2="369.04" stroke="#333" stroke-width="0.8" />
<line x1="515.4" y1="367.69" x2="517" y2="367.69" stroke="#333" stroke-width="0.8" />
<line x1="515.4" y1="366.51" x2="517" y2="366.51" stroke="#333" stroke-width="0.8" />
<line x1="515.4" y1="365.45" x2="518.4" y2="365.45" stroke="#111" stroke-width="1.1" />
<line x1="515.4" y1="358.48" x2="517" y2="358.48" stroke="#333" stroke-width="0.8" />
<line x1="515.4" y1="354.4" x2="517" y2="354.4" stroke="#333" stroke-width="0.8" />
<line x1="515.4" y1="351.51" x2="517" y2="351.51" stroke="#333" stroke-width="0.8" />
<line x1="515.4" y1="349.27" x2="517" y2="349.27" stroke="#333" stroke-width="0.8" />
<line x1="515.4" y1="347.44" x2="517" y2="347.44" stroke="#333" stroke-width="0.8" />
<line x1="515.4" y1="345.89" x2="517" y2="345.89" stroke="#333" stroke-width="0.8" />
<line x1="515.4" y1="344.54" x2="517" y2="344.54" stroke="#333" stroke-width="0.8" />
<line x1="515.4" y1="343.36" x2="517" y2="343.36" stroke="#333" stroke-width="0.8" />
<line x1="515.4" y1="342.3" x2="518.4" y2="342.3" stroke="#111" stroke-width="1.1" />
<line x1="515.4" y1="335.33" x2="517" y2="335.33" stroke="#333" stroke-width="0.8" />
<line x1="515.4" y1="331.25" x2="517" y2="331.25" stroke="#333" stroke-width="0.8" />
<line x1="530.1" y1="504.4" x2="530.1" y2="506.6" stroke="#111" stroke-width="1.1" />
<line x1="545.5" y1="504.4" x2="545.5" y2="506.6" stroke="#111" stroke-width="1.1" />
<line x1="560.9" y1="504.4" x2="560.9" y2="506.6" stroke="#111" stroke-width="1.1" />
<line x1="576.3" y1="504.4" x2="576.3" y2="506.6" stroke="#111" stroke-width="1.1" />
<line x1="591.7" y1="504.4" x2="591.7" y2="506.6" stroke="#111" stroke-width="1.1" />
<line x1="607.1" y1="504.4" x2="607.1" y2="506.6" stroke="#111" stroke-width="1.1" />
<line x1="622.5" y1="504.4" x2="622.5" y2="506.6" stroke="#111" stroke-width="1.1" />
<line x1="637.9" y1="504.4" x2="637.9" y2="506.6" stroke="#111" stroke-width="1.1" />
<line x1="653.3" y1="504.4" x2="653.3" y2="506.6" stroke="#111" stroke-width="1.1" />
<text x="529.6" y="519.2" font-size="11.8" font-weight="bold" fill="#111" text-anchor="middle" textLength="19.5" lengthAdjust="spacingAndGlyphs" >-40</text>
<text x="560.4" y="519.2" font-size="11.8" font-weight="bold" fill="#111" text-anchor="middle" textLength="19.5" lengthAdjust="spacingAndGlyphs" >-20</text>
<text x="591.2" y="519.2" font-size="11.8" font-weight="bold" fill="#111" text-anchor="middle" textLength="7" lengthAdjust="spacingAndGlyphs" >0</text>
<text x="622" y="519.2" font-size="11.8" font-weight="bold" fill="#111" text-anchor="middle" textLength="13.5" lengthAdjust="spacingAndGlyphs" >20</text>
<text x="652.8" y="519.2" font-size="11.8" font-weight="bold" fill="#111" text-anchor="middle" textLength="13.5" lengthAdjust="spacingAndGlyphs" >40</text>
<text x="592.5" y="533.4" text-anchor="middle" font-size="12.8" font-weight="bold" fill="#111" textLength="38.6" lengthAdjust="spacingAndGlyphs">V<tspan font-size="9.2">G</tspan> [V]</text>
<line x1="670.1" y1="328.4" x2="670.1" y2="504.4" stroke="#555" stroke-width="1.1"/>
<text x="23.1" y="348.9" font-size="15.1" font-weight="bold" fill="#111" text-anchor="start" textLength="15.6" lengthAdjust="spacingAndGlyphs" >10</text>
<text x="39.5" y="340" font-size="10.3" font-weight="bold" fill="#111" text-anchor="start" textLength="9.4" lengthAdjust="spacingAndGlyphs" >-3</text>
<text x="23.1" y="395.2" font-size="15.1" font-weight="bold" fill="#111" text-anchor="start" textLength="15.6" lengthAdjust="spacingAndGlyphs" >10</text>
<text x="39.5" y="386.3" font-size="10.3" font-weight="bold" fill="#111" text-anchor="start" textLength="9.4" lengthAdjust="spacingAndGlyphs" >-5</text>
<text x="23.1" y="441.5" font-size="15.1" font-weight="bold" fill="#111" text-anchor="start" textLength="15.6" lengthAdjust="spacingAndGlyphs" >10</text>
<text x="39.5" y="432.6" font-size="10.3" font-weight="bold" fill="#111" text-anchor="start" textLength="9.4" lengthAdjust="spacingAndGlyphs" >-7</text>
<text x="23.1" y="487.8" font-size="15.1" font-weight="bold" fill="#111" text-anchor="start" textLength="15.6" lengthAdjust="spacingAndGlyphs" >10</text>
<text x="39.5" y="478.9" font-size="10.3" font-weight="bold" fill="#111" text-anchor="start" textLength="9.4" lengthAdjust="spacingAndGlyphs" >-9</text>
<text transform="translate(14.8,411.2) rotate(-90)" text-anchor="middle" font-size="17" fill="#111">|I<tspan font-size="12.5">D</tspan>| [A]</text>
<text x="13.8" y="324.2" font-size="26.5" font-weight="bold" fill="#111" text-anchor="start" >c</text>
<path d="M70.1,361.3 C72.68,361.57 80.65,362.03 85.6,362.9 C90.55,363.77 95.47,365.12 99.8,366.5 C104.13,367.88 108.05,369.62 111.6,371.2 C115.15,372.78 117.93,373.82 121.1,376 C124.27,378.18 127.43,380.93 130.6,384.3 C133.77,387.67 136.93,391.07 140.1,396.2 C143.27,401.33 146.83,408.78 149.6,415.1 C152.37,421.42 154.53,426.18 156.7,434.1 C158.87,442.02 161.03,454.1 162.6,462.6 C164.17,471.1 165.52,481.35 166.1,485.1 C166.9,483.72 168.92,482.13 170.9,476.8 C172.88,471.47 175.63,462.58 178,453.1 C180.37,443.62 182.85,430.38 185.1,419.9 C187.35,409.42 190.43,395.15 191.5,390.2" fill="none" stroke="#1616d8" stroke-width="1.7" stroke-dasharray="4 2.6"/>
<path d="M228,367.7 C230.08,368.2 236.43,369.52 240.5,370.7 C244.57,371.88 248.43,372.93 252.4,374.8 C256.37,376.67 260.35,378.75 264.3,381.9 C268.25,385.05 272.55,389.35 276.1,393.7 C279.65,398.05 282.43,402.87 285.6,408 C288.77,413.13 291.93,417.78 295.1,424.5 C298.27,431.22 301.83,440.38 304.6,448.3 C307.37,456.22 309.73,465.28 311.7,472 C313.67,478.72 314.43,485.13 316.4,488.6 C318.37,492.07 320.53,491.82 323.5,492.8 C326.47,493.78 331.23,494.8 334.2,494.5 C337.17,494.2 339.25,493.35 341.3,491 C343.35,488.65 345.63,482.17 346.5,480.4" fill="none" stroke="#1616d8" stroke-width="1.7" stroke-dasharray="4 2.6"/>
<path d="M379,368.9 C381.37,369.22 388.47,370.02 393.2,370.8 C397.93,371.58 402.67,372.45 407.4,373.6 C412.13,374.75 417.25,376.12 421.6,377.7 C425.95,379.28 429.55,380.72 433.5,383.1 C437.45,385.48 441.75,388.27 445.3,392 C448.85,395.73 451.63,400.67 454.8,405.5 C457.97,410.33 461.13,415.05 464.3,421 C467.47,426.95 471.43,435.07 473.8,441.2 C476.17,447.33 476.92,451.87 478.5,457.8 C480.08,463.73 481.72,472.05 483.3,476.8 C484.88,481.55 486.03,484.4 488,486.3 C489.97,488.2 492.93,488.28 495.1,488.2 C497.27,488.12 500.02,486.2 501,485.8" fill="none" stroke="#1616d8" stroke-width="1.7" stroke-dasharray="4 2.6"/>
<path d="M534.1,373.1 C536.68,373.3 544.65,373.62 549.6,374.3 C554.55,374.98 559.07,375.93 563.8,377.2 C568.53,378.47 573.27,379.93 578,381.9 C582.73,383.87 587.85,386.07 592.2,389 C596.55,391.93 600.15,395 604.1,399.5 C608.05,404 612.35,410.08 615.9,416 C619.45,421.92 623.03,429.62 625.4,435 C627.77,440.38 628.52,443.72 630.1,448.3 C631.68,452.88 633.32,458.55 634.9,462.5 C636.48,466.45 637.63,469.83 639.6,472 C641.57,474.17 644.13,474.32 646.7,475.5 C649.27,476.68 653.62,478.5 655,479.1" fill="none" stroke="#1616d8" stroke-width="1.7" stroke-dasharray="4 2.6"/>
<path d="M66.6,349.2 C69.77,349.52 79.87,350.2 85.6,351.1 C91.33,352 96.27,353.1 101,354.6 C105.73,356.1 109.87,357.72 114,360.1 C118.13,362.48 122.63,366.05 125.8,368.9 C128.97,371.75 130.23,373.65 133,377.2 C135.77,380.75 139.23,384.67 142.4,390.2 C145.57,395.73 148.83,403.08 152,410.4 C155.17,417.72 158.65,425.8 161.4,434.1 C164.15,442.4 166.73,453.88 168.5,460.2 C170.27,466.52 171.42,470.03 172,472 C173,469.63 175.82,464.92 178,457.8 C180.18,450.68 182.85,439.57 185.1,429.3 C187.35,419.03 190.43,401.72 191.5,396.2" fill="none" stroke="#1616d8" stroke-width="3.2" stroke-linecap="round" stroke-linejoin="round"/>
<path d="M221.6,355.3 C223.97,355.78 231.45,357.13 235.8,358.2 C240.15,359.27 243.75,360.12 247.7,361.7 C251.65,363.28 255.55,365.12 259.5,367.7 C263.45,370.28 267.45,372.87 271.4,377.2 C275.35,381.53 279.65,388.18 283.2,393.7 C286.75,399.22 289.53,403.97 292.7,410.3 C295.87,416.63 299.03,423.8 302.2,431.7 C305.37,439.6 308.93,450.6 311.7,457.7 C314.47,464.8 316.83,470.65 318.8,474.3 C320.77,477.95 321.53,479.2 323.5,479.6 C325.47,480 328.23,479.15 330.6,476.7 C332.97,474.25 335.52,470.03 337.7,464.9 C339.88,459.77 342.23,452.22 343.7,445.9 C345.17,439.58 346.03,430.15 346.5,427" fill="none" stroke="#1616d8" stroke-width="3.2" stroke-linecap="round" stroke-linejoin="round"/>
<path d="M376.1,357.7 C378.95,358.1 387.98,359.12 393.2,360.1 C398.42,361.08 402.67,361.95 407.4,363.6 C412.13,365.25 417.25,367.55 421.6,370 C425.95,372.45 429.55,374.93 433.5,378.3 C437.45,381.67 441.75,385.85 445.3,390.2 C448.85,394.55 451.63,399.47 454.8,404.4 C457.97,409.33 461.13,414.07 464.3,419.8 C467.47,425.53 471.03,432.87 473.8,438.8 C476.57,444.73 478.73,450.47 480.9,455.4 C483.07,460.33 485.22,465.72 486.8,468.4 C488.38,471.08 489.22,471.68 490.4,471.5 C491.58,471.32 492.72,470.37 493.9,467.3 C495.08,464.23 496.32,457.92 497.5,453.1 C498.68,448.28 500.42,440.85 501,438.4" fill="none" stroke="#1616d8" stroke-width="3.2" stroke-linecap="round" stroke-linejoin="round"/>
<path d="M530.6,361 C532.97,361.32 540.07,362.1 544.8,362.9 C549.53,363.7 554.25,364.42 559,365.8 C563.75,367.18 568.95,369.12 573.3,371.2 C577.65,373.28 581.15,375.33 585.1,378.3 C589.05,381.27 593.45,385.25 597,389 C600.55,392.75 603.25,396.45 606.4,400.8 C609.55,405.15 612.73,409.55 615.9,415.1 C619.07,420.65 622.63,428.18 625.4,434.1 C628.17,440.02 630.13,445.47 632.5,450.6 C634.87,455.73 637.55,461.93 639.6,464.9 C641.65,467.87 643.22,468.4 644.8,468.4 C646.38,468.4 647.78,467.07 649.1,464.9 C650.42,462.73 651.72,458.57 652.7,455.4 C653.68,452.23 654.62,447.48 655,445.9" fill="none" stroke="#1616d8" stroke-width="3.2" stroke-linecap="round" stroke-linejoin="round"/>
<line x1="60.3" y1="473.8" x2="84.4" y2="473.8" stroke="#1616d8" stroke-width="3.2" />
<line x1="60.3" y1="490.4" x2="81" y2="490.4" stroke="#1616d8" stroke-width="1.7" stroke-dasharray="4 2.6"/>
<text x="86.2" y="477.3" font-size="10.5" font-weight="bold" fill="#111">V<tspan font-size="6" dy="2.5">D</tspan><tspan dy="-2.5"> = -50 V</tspan></text>
<text x="86.2" y="494" font-size="10.5" font-weight="bold" fill="#111">V<tspan font-size="6" dy="2.5">D</tspan><tspan dy="-2.5"> = -30 V</tspan></text>
<path d="M598.9,481.6 L626,481.6 L625.4,477.2 L645.8,483.8 L625.4,490.4 L626,486 L598.9,486 Z" fill="#ee1111"/>
<path d="M660.1,437.6 L664.3,437.6 L664.3,466.6 L669,466.6 L662.2,488.5 L655.4,466.6 L660.1,466.6 Z" fill="#ee1111"/>
<path d="M73.1,545.3 L628,545.3 L628,540.9 L636.7,548.4 L628,555.7 L628,551.6 L73.1,551.6 Z" fill="#000"/>
<line x1="144.2" y1="551.6" x2="144.2" y2="563.9" stroke="#555" stroke-width="0.9" />
<text x="145.4" y="577.6" font-size="12.2" font-weight="normal" fill="#222" text-anchor="middle" >5 min</text>
<line x1="293.9" y1="551.6" x2="293.9" y2="563.9" stroke="#555" stroke-width="0.9" />
<text x="294.5" y="577.6" font-size="12.2" font-weight="normal" fill="#222" text-anchor="middle" >30 min</text>
<line x1="444.2" y1="551.6" x2="444.2" y2="563.9" stroke="#555" stroke-width="0.9" />
<text x="445.3" y="577.6" font-size="12.2" font-weight="normal" fill="#222" text-anchor="middle" >1 hour</text>
<line x1="594.2" y1="551.6" x2="594.2" y2="563.9" stroke="#555" stroke-width="0.9" />
<text x="591.1" y="577.6" font-size="12.2" font-weight="normal" fill="#222" text-anchor="middle" >3 hour</text>
<text x="519.4" y="566" font-size="11.2" font-weight="bold" fill="#111" text-anchor="middle" textLength="104.4" lengthAdjust="spacingAndGlyphs" >Exposure Time to air</text>
<rect x="417.3" y="11.5" width="236.6" height="250.2" fill="none" stroke="#6a6a6a" stroke-width="1.3"/>
<line x1="417.3" y1="261.68" x2="422.8" y2="261.68" stroke="#6a6a6a" stroke-width="1.2" />
<line x1="417.3" y1="249.74" x2="420.1" y2="249.74" stroke="#6a6a6a" stroke-width="0.9" />
<line x1="417.3" y1="242.75" x2="420.1" y2="242.75" stroke="#6a6a6a" stroke-width="0.9" />
<line x1="417.3" y1="237.79" x2="420.1" y2="237.79" stroke="#6a6a6a" stroke-width="0.9" />
<line x1="417.3" y1="233.94" x2="420.1" y2="233.94" stroke="#6a6a6a" stroke-width="0.9" />
<line x1="417.3" y1="230.8" x2="420.1" y2="230.8" stroke="#6a6a6a" stroke-width="0.9" />
<line x1="417.3" y1="228.15" x2="420.1" y2="228.15" stroke="#6a6a6a" stroke-width="0.9" />
<line x1="417.3" y1="225.85" x2="420.1" y2="225.85" stroke="#6a6a6a" stroke-width="0.9" />
<line x1="417.3" y1="223.82" x2="420.1" y2="223.82" stroke="#6a6a6a" stroke-width="0.9" />
<line x1="417.3" y1="222" x2="422.8" y2="222" stroke="#6a6a6a" stroke-width="1.2" />
<line x1="417.3" y1="210.06" x2="420.1" y2="210.06" stroke="#6a6a6a" stroke-width="0.9" />
<line x1="417.3" y1="203.07" x2="420.1" y2="203.07" stroke="#6a6a6a" stroke-width="0.9" />
<line x1="417.3" y1="198.11" x2="420.1" y2="198.11" stroke="#6a6a6a" stroke-width="0.9" />
<line x1="417.3" y1="194.26" x2="420.1" y2="194.26" stroke="#6a6a6a" stroke-width="0.9" />
<line x1="417.3" y1="191.12" x2="420.1" y2="191.12" stroke="#6a6a6a" stroke-width="0.9" />
<line x1="417.3" y1="188.47" x2="420.1" y2="188.47" stroke="#6a6a6a" stroke-width="0.9" />
<line x1="417.3" y1="186.17" x2="420.1" y2="186.17" stroke="#6a6a6a" stroke-width="0.9" />
<line x1="417.3" y1="184.14" x2="420.1" y2="184.14" stroke="#6a6a6a" stroke-width="0.9" />
<line x1="417.3" y1="182.32" x2="422.8" y2="182.32" stroke="#6a6a6a" stroke-width="1.2" />
<line x1="417.3" y1="170.38" x2="420.1" y2="170.38" stroke="#6a6a6a" stroke-width="0.9" />
<line x1="417.3" y1="163.39" x2="420.1" y2="163.39" stroke="#6a6a6a" stroke-width="0.9" />
<line x1="417.3" y1="158.43" x2="420.1" y2="158.43" stroke="#6a6a6a" stroke-width="0.9" />
<line x1="417.3" y1="154.58" x2="420.1" y2="154.58" stroke="#6a6a6a" stroke-width="0.9" />
<line x1="417.3" y1="151.44" x2="420.1" y2="151.44" stroke="#6a6a6a" stroke-width="0.9" />
<line x1="417.3" y1="148.79" x2="420.1" y2="148.79" stroke="#6a6a6a" stroke-width="0.9" />
<line x1="417.3" y1="146.49" x2="420.1" y2="146.49" stroke="#6a6a6a" stroke-width="0.9" />
<line x1="417.3" y1="144.46" x2="420.1" y2="144.46" stroke="#6a6a6a" stroke-width="0.9" />
<line x1="417.3" y1="142.64" x2="422.8" y2="142.64" stroke="#6a6a6a" stroke-width="1.2" />
<line x1="417.3" y1="130.7" x2="420.1" y2="130.7" stroke="#6a6a6a" stroke-width="0.9" />
<line x1="417.3" y1="123.71" x2="420.1" y2="123.71" stroke="#6a6a6a" stroke-width="0.9" />
<line x1="417.3" y1="118.75" x2="420.1" y2="118.75" stroke="#6a6a6a" stroke-width="0.9" />
<line x1="417.3" y1="114.9" x2="420.1" y2="114.9" stroke="#6a6a6a" stroke-width="0.9" />
<line x1="417.3" y1="111.76" x2="420.1" y2="111.76" stroke="#6a6a6a" stroke-width="0.9" />
<line x1="417.3" y1="109.11" x2="420.1" y2="109.11" stroke="#6a6a6a" stroke-width="0.9" />
<line x1="417.3" y1="106.81" x2="420.1" y2="106.81" stroke="#6a6a6a" stroke-width="0.9" />
<line x1="417.3" y1="104.78" x2="420.1" y2="104.78" stroke="#6a6a6a" stroke-width="0.9" />
<line x1="417.3" y1="102.96" x2="422.8" y2="102.96" stroke="#6a6a6a" stroke-width="1.2" />
<line x1="417.3" y1="91.02" x2="420.1" y2="91.02" stroke="#6a6a6a" stroke-width="0.9" />
<line x1="417.3" y1="84.03" x2="420.1" y2="84.03" stroke="#6a6a6a" stroke-width="0.9" />
<line x1="417.3" y1="79.07" x2="420.1" y2="79.07" stroke="#6a6a6a" stroke-width="0.9" />
<line x1="417.3" y1="75.22" x2="420.1" y2="75.22" stroke="#6a6a6a" stroke-width="0.9" />
<line x1="417.3" y1="72.08" x2="420.1" y2="72.08" stroke="#6a6a6a" stroke-width="0.9" />
<line x1="417.3" y1="69.43" x2="420.1" y2="69.43" stroke="#6a6a6a" stroke-width="0.9" />
<line x1="417.3" y1="67.13" x2="420.1" y2="67.13" stroke="#6a6a6a" stroke-width="0.9" />
<line x1="417.3" y1="65.1" x2="420.1" y2="65.1" stroke="#6a6a6a" stroke-width="0.9" />
<line x1="417.3" y1="63.28" x2="422.8" y2="63.28" stroke="#6a6a6a" stroke-width="1.2" />
<line x1="417.3" y1="51.34" x2="420.1" y2="51.34" stroke="#6a6a6a" stroke-width="0.9" />
<line x1="417.3" y1="44.35" x2="420.1" y2="44.35" stroke="#6a6a6a" stroke-width="0.9" />
<line x1="417.3" y1="39.39" x2="420.1" y2="39.39" stroke="#6a6a6a" stroke-width="0.9" />
<line x1="417.3" y1="35.54" x2="420.1" y2="35.54" stroke="#6a6a6a" stroke-width="0.9" />
<line x1="417.3" y1="32.4" x2="420.1" y2="32.4" stroke="#6a6a6a" stroke-width="0.9" />
<line x1="417.3" y1="29.75" x2="420.1" y2="29.75" stroke="#6a6a6a" stroke-width="0.9" />
<line x1="417.3" y1="27.45" x2="420.1" y2="27.45" stroke="#6a6a6a" stroke-width="0.9" />
<line x1="417.3" y1="25.42" x2="420.1" y2="25.42" stroke="#6a6a6a" stroke-width="0.9" />
<line x1="417.3" y1="23.6" x2="422.8" y2="23.6" stroke="#6a6a6a" stroke-width="1.2" />
<line x1="417.3" y1="11.66" x2="420.1" y2="11.66" stroke="#6a6a6a" stroke-width="0.9" />
<line x1="417.3" y1="23.6" x2="422.8" y2="23.6" stroke="#6a6a6a" stroke-width="1.2" />
<line x1="440.9" y1="261.7" x2="440.9" y2="265.2" stroke="#6a6a6a" stroke-width="1.1" />
<line x1="464.51" y1="261.7" x2="464.51" y2="263.9" stroke="#6a6a6a" stroke-width="1.1" />
<line x1="488.12" y1="261.7" x2="488.12" y2="265.2" stroke="#6a6a6a" stroke-width="1.1" />
<line x1="511.73" y1="261.7" x2="511.73" y2="263.9" stroke="#6a6a6a" stroke-width="1.1" />
<line x1="535.34" y1="261.7" x2="535.34" y2="265.2" stroke="#6a6a6a" stroke-width="1.1" />
<line x1="558.95" y1="261.7" x2="558.95" y2="263.9" stroke="#6a6a6a" stroke-width="1.1" />
<line x1="582.56" y1="261.7" x2="582.56" y2="265.2" stroke="#6a6a6a" stroke-width="1.1" />
<line x1="606.17" y1="261.7" x2="606.17" y2="263.9" stroke="#6a6a6a" stroke-width="1.1" />
<line x1="629.78" y1="261.7" x2="629.78" y2="265.2" stroke="#6a6a6a" stroke-width="1.1" />
<text x="441.2" y="279.7" font-size="16.2" font-weight="bold" fill="#111" text-anchor="middle" textLength="23.2" lengthAdjust="spacingAndGlyphs" >-40</text>
<text x="488.42" y="279.7" font-size="16.2" font-weight="bold" fill="#111" text-anchor="middle" textLength="23.2" lengthAdjust="spacingAndGlyphs" >-20</text>
<text x="535.64" y="279.7" font-size="16.2" font-weight="bold" fill="#111" text-anchor="middle" textLength="9.2" lengthAdjust="spacingAndGlyphs" >0</text>
<text x="582.86" y="279.7" font-size="16.2" font-weight="bold" fill="#111" text-anchor="middle" textLength="18" lengthAdjust="spacingAndGlyphs" >20</text>
<text x="630.08" y="279.7" font-size="16.2" font-weight="bold" fill="#111" text-anchor="middle" textLength="18" lengthAdjust="spacingAndGlyphs" >40</text>
<text x="535" y="298" text-anchor="middle" font-size="18" font-weight="bold" fill="#111">V<tspan font-size="12.5">G</tspan> [V]</text>
<text x="403.8" y="20.1" font-size="11" font-weight="bold" fill="#111" text-anchor="start" textLength="9" lengthAdjust="spacingAndGlyphs" >-4</text>
<text x="384.2" y="30.3" font-size="17.7" font-weight="bold" fill="#111" text-anchor="start" textLength="18.8" lengthAdjust="spacingAndGlyphs" >10</text>
<text x="403.8" y="99.46" font-size="11" font-weight="bold" fill="#111" text-anchor="start" textLength="9" lengthAdjust="spacingAndGlyphs" >-6</text>
<text x="384.2" y="109.66" font-size="17.7" font-weight="bold" fill="#111" text-anchor="start" textLength="18.8" lengthAdjust="spacingAndGlyphs" >10</text>
<text x="403.8" y="178.82" font-size="11" font-weight="bold" fill="#111" text-anchor="start" textLength="9" lengthAdjust="spacingAndGlyphs" >-8</text>
<text x="384.2" y="189.02" font-size="17.7" font-weight="bold" fill="#111" text-anchor="start" textLength="18.8" lengthAdjust="spacingAndGlyphs" >10</text>
<text x="398.3" y="258.18" font-size="11" font-weight="bold" fill="#111" text-anchor="start" textLength="14.5" lengthAdjust="spacingAndGlyphs" >-10</text>
<text x="378.7" y="268.38" font-size="17.7" font-weight="bold" fill="#111" text-anchor="start" textLength="18.8" lengthAdjust="spacingAndGlyphs" >10</text>
<text transform="translate(375.7,143.5) rotate(-90)" text-anchor="middle" font-size="20.5" fill="#111">|I<tspan font-size="15.5">D</tspan>| [A]</text>
<text x="360.2" y="22" font-size="27" font-weight="normal" fill="#111" text-anchor="start" stroke="#111" stroke-width="0.4">b</text>
<circle cx="440.9" cy="54.59" r="3.15" fill="none" stroke="#e83a3a" stroke-width="0.95"/>
<circle cx="445.62" cy="56.72" r="3.15" fill="none" stroke="#e83a3a" stroke-width="0.95"/>
<circle cx="450.34" cy="59.21" r="3.15" fill="none" stroke="#e83a3a" stroke-width="0.95"/>
<circle cx="455.07" cy="62.03" r="3.15" fill="none" stroke="#e83a3a" stroke-width="0.95"/>
<circle cx="459.79" cy="64.84" r="3.15" fill="none" stroke="#e83a3a" stroke-width="0.95"/>
<circle cx="464.51" cy="67.65" r="3.15" fill="none" stroke="#e83a3a" stroke-width="0.95"/>
<circle cx="469.23" cy="70.46" r="3.15" fill="none" stroke="#e83a3a" stroke-width="0.95"/>
<circle cx="473.95" cy="73.27" r="3.15" fill="none" stroke="#e83a3a" stroke-width="0.95"/>
<circle cx="478.68" cy="76.08" r="3.15" fill="none" stroke="#e83a3a" stroke-width="0.95"/>
<circle cx="483.4" cy="78.91" r="3.15" fill="none" stroke="#e83a3a" stroke-width="0.95"/>
<circle cx="488.12" cy="81.99" r="3.15" fill="none" stroke="#e83a3a" stroke-width="0.95"/>
<circle cx="492.84" cy="85.83" r="3.15" fill="none" stroke="#e83a3a" stroke-width="0.95"/>
<circle cx="497.56" cy="89.67" r="3.15" fill="none" stroke="#e83a3a" stroke-width="0.95"/>
<circle cx="502.29" cy="94.23" r="3.15" fill="none" stroke="#e83a3a" stroke-width="0.95"/>
<circle cx="507.01" cy="98.62" r="3.15" fill="none" stroke="#e83a3a" stroke-width="0.95"/>
<circle cx="511.73" cy="101.85" r="3.15" fill="none" stroke="#e83a3a" stroke-width="0.95"/>
<circle cx="516.45" cy="104.67" r="3.15" fill="none" stroke="#e83a3a" stroke-width="0.95"/>
<circle cx="521.17" cy="106.2" r="3.15" fill="none" stroke="#e83a3a" stroke-width="0.95"/>
<circle cx="525.9" cy="105.66" r="3.15" fill="none" stroke="#e83a3a" stroke-width="0.95"/>
<circle cx="530.62" cy="104.38" r="3.15" fill="none" stroke="#e83a3a" stroke-width="0.95"/>
<circle cx="535.34" cy="101.75" r="3.15" fill="none" stroke="#e83a3a" stroke-width="0.95"/>
<circle cx="540.06" cy="98.18" r="3.15" fill="none" stroke="#e83a3a" stroke-width="0.95"/>
<circle cx="544.78" cy="94.33" r="3.15" fill="none" stroke="#e83a3a" stroke-width="0.95"/>
<circle cx="549.51" cy="91.04" r="3.15" fill="none" stroke="#e83a3a" stroke-width="0.95"/>
<circle cx="554.23" cy="88.31" r="3.15" fill="none" stroke="#e83a3a" stroke-width="0.95"/>
<circle cx="558.95" cy="85.95" r="3.15" fill="none" stroke="#e83a3a" stroke-width="0.95"/>
<circle cx="563.67" cy="83.84" r="3.15" fill="none" stroke="#e83a3a" stroke-width="0.95"/>
<circle cx="568.39" cy="81.94" r="3.15" fill="none" stroke="#e83a3a" stroke-width="0.95"/>
<circle cx="573.12" cy="80.5" r="3.15" fill="none" stroke="#e83a3a" stroke-width="0.95"/>
<circle cx="577.84" cy="79.35" r="3.15" fill="none" stroke="#e83a3a" stroke-width="0.95"/>
<circle cx="582.56" cy="78.36" r="3.15" fill="none" stroke="#e83a3a" stroke-width="0.95"/>
<circle cx="587.28" cy="77.48" r="3.15" fill="none" stroke="#e83a3a" stroke-width="0.95"/>
<circle cx="592" cy="76.68" r="3.15" fill="none" stroke="#e83a3a" stroke-width="0.95"/>
<circle cx="596.73" cy="75.87" r="3.15" fill="none" stroke="#e83a3a" stroke-width="0.95"/>
<circle cx="601.45" cy="74.71" r="3.15" fill="none" stroke="#e83a3a" stroke-width="0.95"/>
<circle cx="606.17" cy="73.73" r="3.15" fill="none" stroke="#e83a3a" stroke-width="0.95"/>
<circle cx="610.89" cy="72.62" r="3.15" fill="none" stroke="#e83a3a" stroke-width="0.95"/>
<circle cx="615.61" cy="71.1" r="3.15" fill="none" stroke="#e83a3a" stroke-width="0.95"/>
<circle cx="620.34" cy="69.45" r="3.15" fill="none" stroke="#e83a3a" stroke-width="0.95"/>
<circle cx="625.06" cy="67.95" r="3.15" fill="none" stroke="#e83a3a" stroke-width="0.95"/>
<circle cx="629.78" cy="66.4" r="3.15" fill="none" stroke="#e83a3a" stroke-width="0.95"/>
<circle cx="440.9" cy="36.01" r="3.15" fill="none" stroke="#4a4ae6" stroke-width="0.95"/>
<circle cx="445.62" cy="36.28" r="3.15" fill="none" stroke="#4a4ae6" stroke-width="0.95"/>
<circle cx="450.34" cy="36.87" r="3.15" fill="none" stroke="#4a4ae6" stroke-width="0.95"/>
<circle cx="455.07" cy="37.58" r="3.15" fill="none" stroke="#4a4ae6" stroke-width="0.95"/>
<circle cx="459.79" cy="38.31" r="3.15" fill="none" stroke="#4a4ae6" stroke-width="0.95"/>
<circle cx="464.51" cy="39.03" r="3.15" fill="none" stroke="#4a4ae6" stroke-width="0.95"/>
<circle cx="469.23" cy="39.94" r="3.15" fill="none" stroke="#4a4ae6" stroke-width="0.95"/>
<circle cx="473.95" cy="40.9" r="3.15" fill="none" stroke="#4a4ae6" stroke-width="0.95"/>
<circle cx="478.68" cy="41.86" r="3.15" fill="none" stroke="#4a4ae6" stroke-width="0.95"/>
<circle cx="483.4" cy="42.82" r="3.15" fill="none" stroke="#4a4ae6" stroke-width="0.95"/>
<circle cx="488.12" cy="43.83" r="3.15" fill="none" stroke="#4a4ae6" stroke-width="0.95"/>
<circle cx="492.84" cy="44.84" r="3.15" fill="none" stroke="#4a4ae6" stroke-width="0.95"/>
<circle cx="497.56" cy="45.85" r="3.15" fill="none" stroke="#4a4ae6" stroke-width="0.95"/>
<circle cx="502.29" cy="46.93" r="3.15" fill="none" stroke="#4a4ae6" stroke-width="0.95"/>
<circle cx="507.01" cy="48.26" r="3.15" fill="none" stroke="#4a4ae6" stroke-width="0.95"/>
<circle cx="511.73" cy="49.59" r="3.15" fill="none" stroke="#4a4ae6" stroke-width="0.95"/>
<circle cx="516.45" cy="50.91" r="3.15" fill="none" stroke="#4a4ae6" stroke-width="0.95"/>
<circle cx="521.17" cy="52.61" r="3.15" fill="none" stroke="#4a4ae6" stroke-width="0.95"/>
<circle cx="525.9" cy="54.7" r="3.15" fill="none" stroke="#4a4ae6" stroke-width="0.95"/>
<circle cx="530.62" cy="56.8" r="3.15" fill="none" stroke="#4a4ae6" stroke-width="0.95"/>
<circle cx="535.34" cy="59.54" r="3.15" fill="none" stroke="#4a4ae6" stroke-width="0.95"/>
<circle cx="540.06" cy="62.99" r="3.15" fill="none" stroke="#4a4ae6" stroke-width="0.95"/>
<circle cx="544.78" cy="68.59" r="3.15" fill="none" stroke="#4a4ae6" stroke-width="0.95"/>
<circle cx="549.51" cy="76.57" r="3.15" fill="none" stroke="#4a4ae6" stroke-width="0.95"/>
<circle cx="554.23" cy="83.96" r="3.15" fill="none" stroke="#4a4ae6" stroke-width="0.95"/>
<circle cx="558.95" cy="91.66" r="3.15" fill="none" stroke="#4a4ae6" stroke-width="0.95"/>
<circle cx="563.67" cy="99.22" r="3.15" fill="none" stroke="#4a4ae6" stroke-width="0.95"/>
<circle cx="568.39" cy="106.95" r="3.15" fill="none" stroke="#4a4ae6" stroke-width="0.95"/>
<circle cx="573.12" cy="116.22" r="3.15" fill="none" stroke="#4a4ae6" stroke-width="0.95"/>
<circle cx="577.84" cy="125.76" r="3.15" fill="none" stroke="#4a4ae6" stroke-width="0.95"/>
<circle cx="582.56" cy="136.31" r="3.15" fill="none" stroke="#4a4ae6" stroke-width="0.95"/>
<circle cx="587.28" cy="145.52" r="3.15" fill="none" stroke="#4a4ae6" stroke-width="0.95"/>
<circle cx="592" cy="157.18" r="3.15" fill="none" stroke="#4a4ae6" stroke-width="0.95"/>
<circle cx="596.73" cy="172.46" r="3.15" fill="none" stroke="#4a4ae6" stroke-width="0.95"/>
<circle cx="601.45" cy="186.66" r="3.15" fill="none" stroke="#4a4ae6" stroke-width="0.95"/>
<circle cx="606.17" cy="199.81" r="3.15" fill="none" stroke="#4a4ae6" stroke-width="0.95"/>
<circle cx="610.89" cy="207.18" r="3.15" fill="none" stroke="#4a4ae6" stroke-width="0.95"/>
<circle cx="615.61" cy="209.76" r="3.15" fill="none" stroke="#4a4ae6" stroke-width="0.95"/>
<circle cx="620.34" cy="211.4" r="3.15" fill="none" stroke="#4a4ae6" stroke-width="0.95"/>
<circle cx="625.06" cy="213.4" r="3.15" fill="none" stroke="#4a4ae6" stroke-width="0.95"/>
<circle cx="629.78" cy="216.58" r="3.15" fill="none" stroke="#4a4ae6" stroke-width="0.95"/>
<path d="M440.7,56.2 C442.47,57.03 447.15,59.18 451.3,61.2 C455.45,63.22 460.85,65.63 465.6,68.3 C470.35,70.97 475.37,73.63 479.8,77.2 C484.23,80.77 488.65,85.55 492.2,89.7 C495.75,93.85 498.13,97.67 501.1,102.1 C504.07,106.53 507.33,112.15 510,116.3 C512.67,120.45 515.92,125.22 517.1,127 C518.58,125.52 523.02,120.95 526,118.1 C528.98,115.25 531.52,113.35 535,109.9 C538.48,106.45 542.95,100.87 546.9,97.4 C550.85,93.93 554.75,91.37 558.7,89.1 C562.65,86.83 566.65,85.48 570.6,83.8 C574.55,82.12 578.45,80.48 582.4,79 C586.35,77.52 590.35,76.18 594.3,74.9 C598.25,73.62 602,72.48 606.1,71.3 C610.2,70.12 614.85,68.8 618.9,67.8 C622.95,66.8 628.48,65.72 630.4,65.3" fill="none" stroke="#f00" stroke-width="3.8" stroke-linejoin="round" stroke-linecap="round"/>
<path d="M440.7,28.9 C443.37,29.55 451.08,31.42 456.7,32.8 C462.32,34.18 468.48,35.57 474.4,37.2 C480.32,38.83 486.27,40.67 492.2,42.6 C498.13,44.53 504.07,46.58 510,48.8 C515.93,51.02 523.63,53.88 527.8,55.9 C531.97,57.92 531.82,58.43 535,60.9 C538.18,63.37 542.95,66.88 546.9,70.7 C550.85,74.52 555.55,79.93 558.7,83.8 C561.85,87.67 563.43,90.05 565.8,93.9 C568.17,97.75 570.72,102.77 572.9,106.9 C575.08,111.03 577.12,114.52 578.9,118.7 C580.68,122.88 582.18,126.95 583.6,132 C585.02,137.05 586.25,144.25 587.4,149 C588.55,153.75 589.4,156.5 590.5,160.5 C591.6,164.5 592.73,168.45 594,173 C595.27,177.55 596.93,182.5 598.1,187.8 C599.27,193.1 599.93,197.97 601,204.8 C602.07,211.63 603.92,224.8 604.5,228.8 C606.5,227.62 612.15,224.05 616.5,221.7 C620.85,219.35 628.25,215.87 630.6,214.7" fill="none" stroke="#0000f0" stroke-width="3.8" stroke-linejoin="round" stroke-linecap="round"/>
<path d="M440.7,28.9 C443.37,29.55 451.08,31.42 456.7,32.8 C462.32,34.18 468.48,35.57 474.4,37.2 C480.32,38.83 486.27,40.67 492.2,42.6 C498.13,44.53 504.07,46.58 510,48.8 C515.93,51.02 523.63,53.88 527.8,55.9 C531.97,57.92 531.82,58.43 535,60.9 C538.18,63.37 542.95,66.88 546.9,70.7 C550.85,74.52 555.55,79.93 558.7,83.8 C561.85,87.67 563.43,90.05 565.8,93.9 C568.17,97.75 570.72,102.77 572.9,106.9 C575.08,111.03 577.63,116.22 578.9,118.7 C580.17,121.18 580.23,121.28 580.5,121.8 L584.8,122.1 L630.5,84" fill="none" stroke="#0b6b0b" stroke-width="3.3" stroke-dasharray="0.3 6.0" stroke-linecap="round"/>
<rect x="423.5" y="168.8" width="153.7" height="47.1" fill="#fff" stroke="#777" stroke-width="1.1"/>
<rect x="424.3" y="220" width="151.9" height="35.2" fill="#fff" stroke="#777" stroke-width="1.1"/>
<text x="434.4" y="179.1" font-size="9.3" font-weight="normal" fill="#333" text-anchor="start" textLength="94.4" lengthAdjust="spacingAndGlyphs" >In ambient atmosphere</text>
<circle cx="445" cy="187.7" r="3.2" fill="none" stroke="#4a4ae6" stroke-width="0.9"/>
<text x="457.8" y="190.7" font-size="9.3" fill="#333">Measured I<tspan font-size="7">D</tspan></text>
<line x1="434.6" y1="199.5" x2="455.3" y2="199.5" stroke="#0000f0" stroke-width="4" stroke-linecap="round"/>
<text x="457" y="202.3" font-size="9.3" fill="#333">Simulated I<tspan font-size="7">D</tspan></text>
<circle cx="434" cy="211.4" r="1.7" fill="#0a6a0a"/>
<circle cx="440.5" cy="211.4" r="1.7" fill="#0a6a0a"/>
<circle cx="447" cy="211.4" r="1.7" fill="#0a6a0a"/>
<circle cx="453.5" cy="211.4" r="1.7" fill="#0a6a0a"/>
<text x="457.8" y="213.9" font-size="9.3" fill="#333" textLength="114.4" lengthAdjust="spacingAndGlyphs">Simulated I<tspan font-size="7">D</tspan> wo/ trap states</text>
<text x="432.4" y="229.8" font-size="9.3" font-weight="normal" fill="#333" text-anchor="start" textLength="134.2" lengthAdjust="spacingAndGlyphs" >In vacuum after in-situ annealing</text>
<circle cx="442.7" cy="238.8" r="3.2" fill="none" stroke="#e83a3a" stroke-width="0.9"/>
<text x="455.8" y="241.9" font-size="9.3" fill="#333">Measured I<tspan font-size="7">D</tspan></text>
<line x1="432.9" y1="249.7" x2="453.5" y2="249.7" stroke="#f00" stroke-width="4" stroke-linecap="round"/>
<text x="455.8" y="252.4" font-size="9.3" fill="#333">Simulated I<tspan font-size="7">D</tspan></text>
<defs>
<linearGradient id="gap" x1="0" y1="0" x2="0" y2="1">
 <stop offset="0" stop-color="#b4e2f7"/><stop offset="0.45" stop-color="#15a6e6"/><stop offset="0.55" stop-color="#1aa8e8"/><stop offset="1" stop-color="#cdeef9"/>
</linearGradient>
<linearGradient id="grf" x1="0" y1="0" x2="0" y2="1">
 <stop offset="0" stop-color="#62c756"/><stop offset="0.12" stop-color="#48b03a"/><stop offset="0.7" stop-color="#3ea030"/><stop offset="1" stop-color="#358f28"/>
</linearGradient>
<linearGradient id="alf" x1="0" y1="0" x2="0" y2="1">
 <stop offset="0" stop-color="#8f9a8f"/><stop offset="0.25" stop-color="#8a8a8a"/><stop offset="0.4" stop-color="#7a7a7a"/><stop offset="1" stop-color="#6a6a6a"/>
</linearGradient>
<linearGradient id="sif" x1="0" y1="0" x2="0" y2="1">
 <stop offset="0" stop-color="#9ea1b2"/><stop offset="1" stop-color="#8e92a4"/>
</linearGradient>
</defs>
<polygon points="31,214.5 80.3,268.3 82.2,272.5 83.7,296.5 31.1,224" fill="#b4b4bd" stroke="#b4b4bd" stroke-width="0.6" stroke-linejoin="round" />
<polygon points="80,267.5 339.3,225.8 349.1,229.6 82.2,272.5" fill="#6c6586" stroke="#6c6586" stroke-width="0.6" stroke-linejoin="round" />
<polygon points="82.2,272.5 349.1,229.6 348.6,246.5 83.7,296.5" fill="url(#sif)" />
<line x1="82.5" y1="273.1" x2="349" y2="230.1" stroke="#c8c8d8" stroke-width="1.1" />
<polygon points="30.4,206.1 79.3,259.5 338.7,219.6 303.5,208.1 280,200 35,200" fill="#7f46bb" stroke="#7f46bb" stroke-width="0.6" stroke-linejoin="round" />
<polygon points="79.3,259.5 338.7,219.6 339.3,225.8 80,267.5" fill="#7036a8" stroke="#7036a8" stroke-width="0.6" stroke-linejoin="round" />
<polygon points="30.4,206.1 79.3,259.5 80.3,268.3 31,214.5" fill="#8c64c0" stroke="#8c64c0" stroke-width="0.6" stroke-linejoin="round" />
<line x1="30.6" y1="206.3" x2="79.3" y2="259.5" stroke="#4a2a78" stroke-width="1" />
<polygon points="30.9,175.6 57.7,197.7 60.5,236.5 32.2,205.2" fill="#93bf80" stroke="#93bf80" stroke-width="0.6" stroke-linejoin="round" />
<polygon points="30.9,171.5 47.8,170 280.6,168.5 281,170.5 299,173.2 303.6,177.5 301,178.6 57.7,197.6 30.9,175.6" fill="#52b847" stroke="#52b847" stroke-width="0.6" stroke-linejoin="round" />
<path d="M57.7,197.6 L299,177.6 Q303.7,177.2 303.7,181 L303.7,206.5 L64,237 Q60.5,237.5 60.5,233 Z" fill="url(#grf)"/>
<path d="M95.5,215.9 L297,194.2 Q301.3,193.8 301.3,197.7 L301.3,213.5 Q301.3,217.2 297.5,217.8 L97.5,243.4 Q92.5,244 92.5,239 L92.5,220.5 Q92.5,216.3 95.5,215.9 Z" fill="url(#alf)"/>
<polygon points="29.5,145 32,142.4 100,141.2 226.7,137 270,136.6 279.3,143.3 100,149.6 47.9,154.2" fill="#9cc5d8" stroke="#9cc5d8" stroke-width="0.6" stroke-linejoin="round" />
<polygon points="29.5,145 47.9,154.2 47.8,187.6 29.5,172.4" fill="#98d2ee" stroke="#98d2ee" stroke-width="0.6" stroke-linejoin="round" />
<polygon points="29.5,172.4 47.8,187.6 47.8,170.7" fill="#86b2a6" stroke="#86b2a6" stroke-width="0.6" stroke-linejoin="round" />
<polygon points="47.9,154.2 100,149.6 279.3,143.3 280.6,169.7 47.8,170.7" fill="#7dcff1" stroke="#7dcff1" stroke-width="0.6" stroke-linejoin="round" />
<polygon points="47.8,170.7 280.6,169.2 280.6,175.5 47.8,188" fill="#4f9e84" stroke="#4f9e84" stroke-width="0.6" stroke-linejoin="round" />
<polygon points="270,135.9 279.3,143.3 280.6,169.7 274,160" fill="#86d2ee" stroke="#86d2ee" stroke-width="0.6" stroke-linejoin="round" />
<polygon points="69.5,158.9 115.4,156.4 162.7,171.9 107.3,176" fill="#578c9c" stroke="#578c9c" stroke-width="0.6" stroke-linejoin="round" />
<polygon points="69.5,158.9 107.3,176 108.1,189.8 70.1,169.4" fill="#52a288" stroke="#52a288" stroke-width="0.6" stroke-linejoin="round" />
<polygon points="107.3,176 163.5,172.4 163.5,184.9 108.1,189.8" fill="#d8b872" stroke="#d8b872" stroke-width="0.6" stroke-linejoin="round" />
<polygon points="164.7,152.7 213,150.6 267.1,164.9 220.9,166.7" fill="#558a9a" stroke="#558a9a" stroke-width="0.6" stroke-linejoin="round" />
<polygon points="164.7,152.7 220.9,166.7 221.8,180 166,163" fill="#58a88a" stroke="#58a88a" stroke-width="0.6" stroke-linejoin="round" />
<polygon points="220.9,166.7 267.1,164.9 267.1,177.3 221.8,180" fill="#d8b872" stroke="#d8b872" stroke-width="0.6" stroke-linejoin="round" />
<text x="126" y="187.7" font-size="18.5" font-weight="normal" fill="#111" text-anchor="start" textLength="23" lengthAdjust="spacingAndGlyphs" >Au</text>
<text x="228.7" y="179.3" font-size="18.5" font-weight="normal" fill="#111" text-anchor="start" textLength="24" lengthAdjust="spacingAndGlyphs" >Au</text>
<text x="164.7" y="204.7" font-size="17.5" fill="#111" textLength="48" lengthAdjust="spacingAndGlyphs">Al<tspan font-size="13">2</tspan>O<tspan font-size="13">3</tspan></text>
<text x="188.7" y="226" font-size="17.5" font-weight="normal" fill="#111" text-anchor="start" textLength="16" lengthAdjust="spacingAndGlyphs" >Al</text>
<text x="260.7" y="236.7" font-size="17.5" fill="#fff" textLength="37.3" lengthAdjust="spacingAndGlyphs">SiO<tspan font-size="13">2</tspan></text>
<text x="292.7" y="252.7" font-size="17.5" font-weight="normal" fill="#f4f4f8" text-anchor="start" textLength="14.6" lengthAdjust="spacingAndGlyphs" >Si</text>
<line x1="180" y1="103" x2="206" y2="144.7" stroke="#111" stroke-width="1" />
<circle cx="206" cy="144.7" r="6.2" fill="#000"/>
<rect x="217.4" y="54.4" width="59.6" height="43.2" fill="url(#gap)"/>
<line x1="212" y1="52" x2="280.6" y2="52" stroke="#000" stroke-width="2.5" />
<line x1="213" y1="100.6" x2="281.4" y2="100.6" stroke="#000" stroke-width="2.5" />
<line x1="276" y1="73" x2="314.6" y2="73" stroke="#000" stroke-width="2.5" />
<text x="218" y="63.8" font-size="9.4" font-weight="normal" fill="#1c3c5c" text-anchor="start" textLength="28" lengthAdjust="spacingAndGlyphs" >LUMO</text>
<text x="218" y="96.2" font-size="9.4" font-weight="normal" fill="#1c3c5c" text-anchor="start" textLength="30.6" lengthAdjust="spacingAndGlyphs" >HOMO</text>
<text x="228" y="48" font-size="14" font-weight="normal" fill="#111" text-anchor="start" textLength="52" lengthAdjust="spacingAndGlyphs" stroke="#111" stroke-width="0.35">4.04 eV</text>
<text x="228.6" y="117.6" font-size="14.5" font-weight="normal" fill="#111" text-anchor="start" textLength="50.8" lengthAdjust="spacingAndGlyphs" stroke="#111" stroke-width="0.2">5.60 eV</text>
<text x="290" y="69" font-size="14" font-weight="normal" fill="#111" text-anchor="start" textLength="43" lengthAdjust="spacingAndGlyphs" stroke="#111" stroke-width="0.35">4.7 eV</text>
<text x="302" y="88.4" font-size="14" font-weight="normal" fill="#111" text-anchor="start" textLength="18" lengthAdjust="spacingAndGlyphs" stroke="#111" stroke-width="0.6">Au</text>
<text x="134.2" y="44.3" font-size="22" fill="#111" textLength="78.2" lengthAdjust="spacingAndGlyphs">PDPP<tspan stroke="#111" stroke-width="0.7">3T</tspan></text>
<text x="13.5" y="22.2" font-size="27" font-weight="bold" fill="#111" text-anchor="start" >a</text>
<line x1="83.78" y1="61.86" x2="94.6" y2="60.7" stroke="#4a4a4a" stroke-width="1.1" />
<line x1="79.47" y1="65.19" x2="76.1" y2="74.1" stroke="#4a4a4a" stroke-width="1.1" />
<line x1="94.6" y1="60.7" x2="97.6" y2="74.1" stroke="#4a4a4a" stroke-width="1.1" />
<line x1="90.2" y1="80.7" x2="97.6" y2="74.1" stroke="#4a4a4a" stroke-width="1.1" />
<line x1="90.2" y1="80.7" x2="93.9" y2="94.1" stroke="#4a4a4a" stroke-width="1.1" />
<line x1="93.9" y1="94.1" x2="103.3" y2="94.1" stroke="#4a4a4a" stroke-width="1.1" />
<line x1="110.9" y1="79.3" x2="107.41" y2="91.03" stroke="#4a4a4a" stroke-width="1.1" />
<line x1="76.1" y1="74.1" x2="90.2" y2="80.7" stroke="#4a4a4a" stroke-width="1.1" />
<line x1="79.4" y1="73.66" x2="88.43" y2="77.88" stroke="#4a4a4a" stroke-width="1.1" />
<line x1="97.6" y1="74.1" x2="110.9" y2="79.3" stroke="#4a4a4a" stroke-width="1.1" />
<line x1="99.34" y1="76.71" x2="107.85" y2="80.04" stroke="#4a4a4a" stroke-width="1.1" />
<line x1="95.52" y1="61.3" x2="100.42" y2="53.77" stroke="#4a4a4a" stroke-width="1.1" />
<line x1="93.68" y1="60.1" x2="98.58" y2="52.57" stroke="#4a4a4a" stroke-width="1.1" />
<line x1="92.99" y1="93.49" x2="86.92" y2="102.55" stroke="#4a4a4a" stroke-width="1.1" />
<line x1="94.81" y1="94.71" x2="88.75" y2="103.77" stroke="#4a4a4a" stroke-width="1.1" />
<line x1="56.55" y1="74.01" x2="65" y2="78.5" stroke="#4a4a4a" stroke-width="1.1" />
<line x1="51.52" y1="74.43" x2="44.3" y2="80" stroke="#4a4a4a" stroke-width="1.1" />
<line x1="65" y1="78.5" x2="62" y2="91.1" stroke="#4a4a4a" stroke-width="1.1" />
<line x1="62.99" y1="80.02" x2="60.89" y2="88.84" stroke="#4a4a4a" stroke-width="1.1" />
<line x1="62" y1="91.1" x2="48" y2="91.9" stroke="#4a4a4a" stroke-width="1.1" />
<line x1="48" y1="91.9" x2="44.3" y2="80" stroke="#4a4a4a" stroke-width="1.1" />
<line x1="48.97" y1="89.64" x2="46.38" y2="81.31" stroke="#4a4a4a" stroke-width="1.1" />
<line x1="65" y1="78.5" x2="76.1" y2="74.1" stroke="#4a4a4a" stroke-width="1.1" />
<line x1="44.3" y1="80" x2="30.9" y2="76.3" stroke="#4a4a4a" stroke-width="1.1" />
<line x1="110.9" y1="79.3" x2="122.2" y2="75.6" stroke="#4a4a4a" stroke-width="1.1" />
<line x1="122.2" y1="75.6" x2="125.9" y2="62.2" stroke="#4a4a4a" stroke-width="1.1" />
<line x1="124.3" y1="74.02" x2="126.89" y2="64.64" stroke="#4a4a4a" stroke-width="1.1" />
<line x1="125.9" y1="62.2" x2="140" y2="62.2" stroke="#4a4a4a" stroke-width="1.1" />
<line x1="140" y1="62.2" x2="143.7" y2="74.8" stroke="#4a4a4a" stroke-width="1.1" />
<line x1="139.02" y1="64.54" x2="141.61" y2="73.36" stroke="#4a4a4a" stroke-width="1.1" />
<line x1="136.11" y1="81.09" x2="143.7" y2="74.8" stroke="#4a4a4a" stroke-width="1.1" />
<line x1="131.27" y1="81.39" x2="122.2" y2="75.6" stroke="#4a4a4a" stroke-width="1.1" />
<line x1="143.7" y1="74.8" x2="157.8" y2="77" stroke="#4a4a4a" stroke-width="1.1" />
<line x1="164.93" y1="72.1" x2="157.8" y2="77" stroke="#4a4a4a" stroke-width="1.1" />
<line x1="170.08" y1="71.74" x2="177.8" y2="75.6" stroke="#4a4a4a" stroke-width="1.1" />
<line x1="157.8" y1="77" x2="161.5" y2="88.9" stroke="#4a4a4a" stroke-width="1.1" />
<line x1="159.88" y1="78.31" x2="162.47" y2="86.64" stroke="#4a4a4a" stroke-width="1.1" />
<line x1="161.5" y1="88.9" x2="174.8" y2="88.9" stroke="#4a4a4a" stroke-width="1.1" />
<line x1="174.8" y1="88.9" x2="177.8" y2="75.6" stroke="#4a4a4a" stroke-width="1.1" />
<line x1="173.69" y1="86.55" x2="175.79" y2="77.24" stroke="#4a4a4a" stroke-width="1.1" />
<line x1="177.8" y1="75.6" x2="190.4" y2="71.1" stroke="#4a4a4a" stroke-width="1.1" />
<path d="M39.6,63.7 L37.6,63.7 L37.6,92.6 L39.6,92.6" fill="none" stroke="#4a4a4a" stroke-width="1"/>
<path d="M182.4,59.3 L184.4,59.3 L184.4,96.3 L182.4,96.3" fill="none" stroke="#4a4a4a" stroke-width="1"/>
<text x="187.5" y="93.5" font-size="10.5" font-weight="normal" fill="#333" text-anchor="start" >n</text>
<line x1="78.67" y1="59.52" x2="72.6" y2="51.1" stroke="#4a4a4a" stroke-width="1.1" />
<line x1="72.6" y1="51.1" x2="76.3" y2="37.8" stroke="#4a4a4a" stroke-width="1.1" />
<line x1="76.3" y1="37.8" x2="75.8" y2="34.2" stroke="#4a4a4a" stroke-width="1.1" />
<line x1="76.3" y1="37.8" x2="86.4" y2="35.8" stroke="#4a4a4a" stroke-width="1.1" />
<line x1="108.66" y1="96.6" x2="114.8" y2="103.7" stroke="#4a4a4a" stroke-width="1.1" />
<line x1="114.8" y1="103.7" x2="111.1" y2="116.3" stroke="#4a4a4a" stroke-width="1.1" />
<line x1="111.1" y1="116.3" x2="100.8" y2="117.6" stroke="#4a4a4a" stroke-width="1.1" />
<line x1="111.1" y1="116.3" x2="115.5" y2="123.2" stroke="#4a4a4a" stroke-width="1.1" />
<text x="80.6" y="65.8" font-size="10" font-weight="normal" fill="#333" text-anchor="middle" >N</text>
<text x="106.5" y="97.7" font-size="10" font-weight="normal" fill="#333" text-anchor="middle" >N</text>
<text x="101.3" y="54" font-size="10" font-weight="normal" fill="#333" text-anchor="middle" >O</text>
<text x="86" y="109.5" font-size="10" font-weight="normal" fill="#333" text-anchor="middle" >O</text>
<text x="53.9" y="76.2" font-size="10" font-weight="normal" fill="#333" text-anchor="middle" >S</text>
<text x="133.8" y="86.6" font-size="10" font-weight="normal" fill="#333" text-anchor="middle" >S</text>
<text x="167.4" y="74" font-size="10" font-weight="normal" fill="#333" text-anchor="middle" >S</text>
<text x="51.1" y="31.9" font-size="9.6" fill="#333">C<tspan font-size="7" dy="1.6">8</tspan><tspan dy="-1.6">H</tspan><tspan font-size="7" dy="1.6">17</tspan></text>
<text x="87.4" y="40.0" font-size="9.6" fill="#333">C<tspan font-size="7" dy="1.6">6</tspan><tspan dy="-1.6">H</tspan><tspan font-size="7" dy="1.6">13</tspan></text>
<text x="74.6" y="122.2" font-size="9.6" fill="#333">C<tspan font-size="7" dy="1.6">6</tspan><tspan dy="-1.6">H</tspan><tspan font-size="7" dy="1.6">13</tspan></text>
<text x="114.8" y="131.1" font-size="9.6" fill="#333">C<tspan font-size="7" dy="1.6">8</tspan><tspan dy="-1.6">H</tspan><tspan font-size="7" dy="1.6">17</tspan></text>
</svg></body></html>
